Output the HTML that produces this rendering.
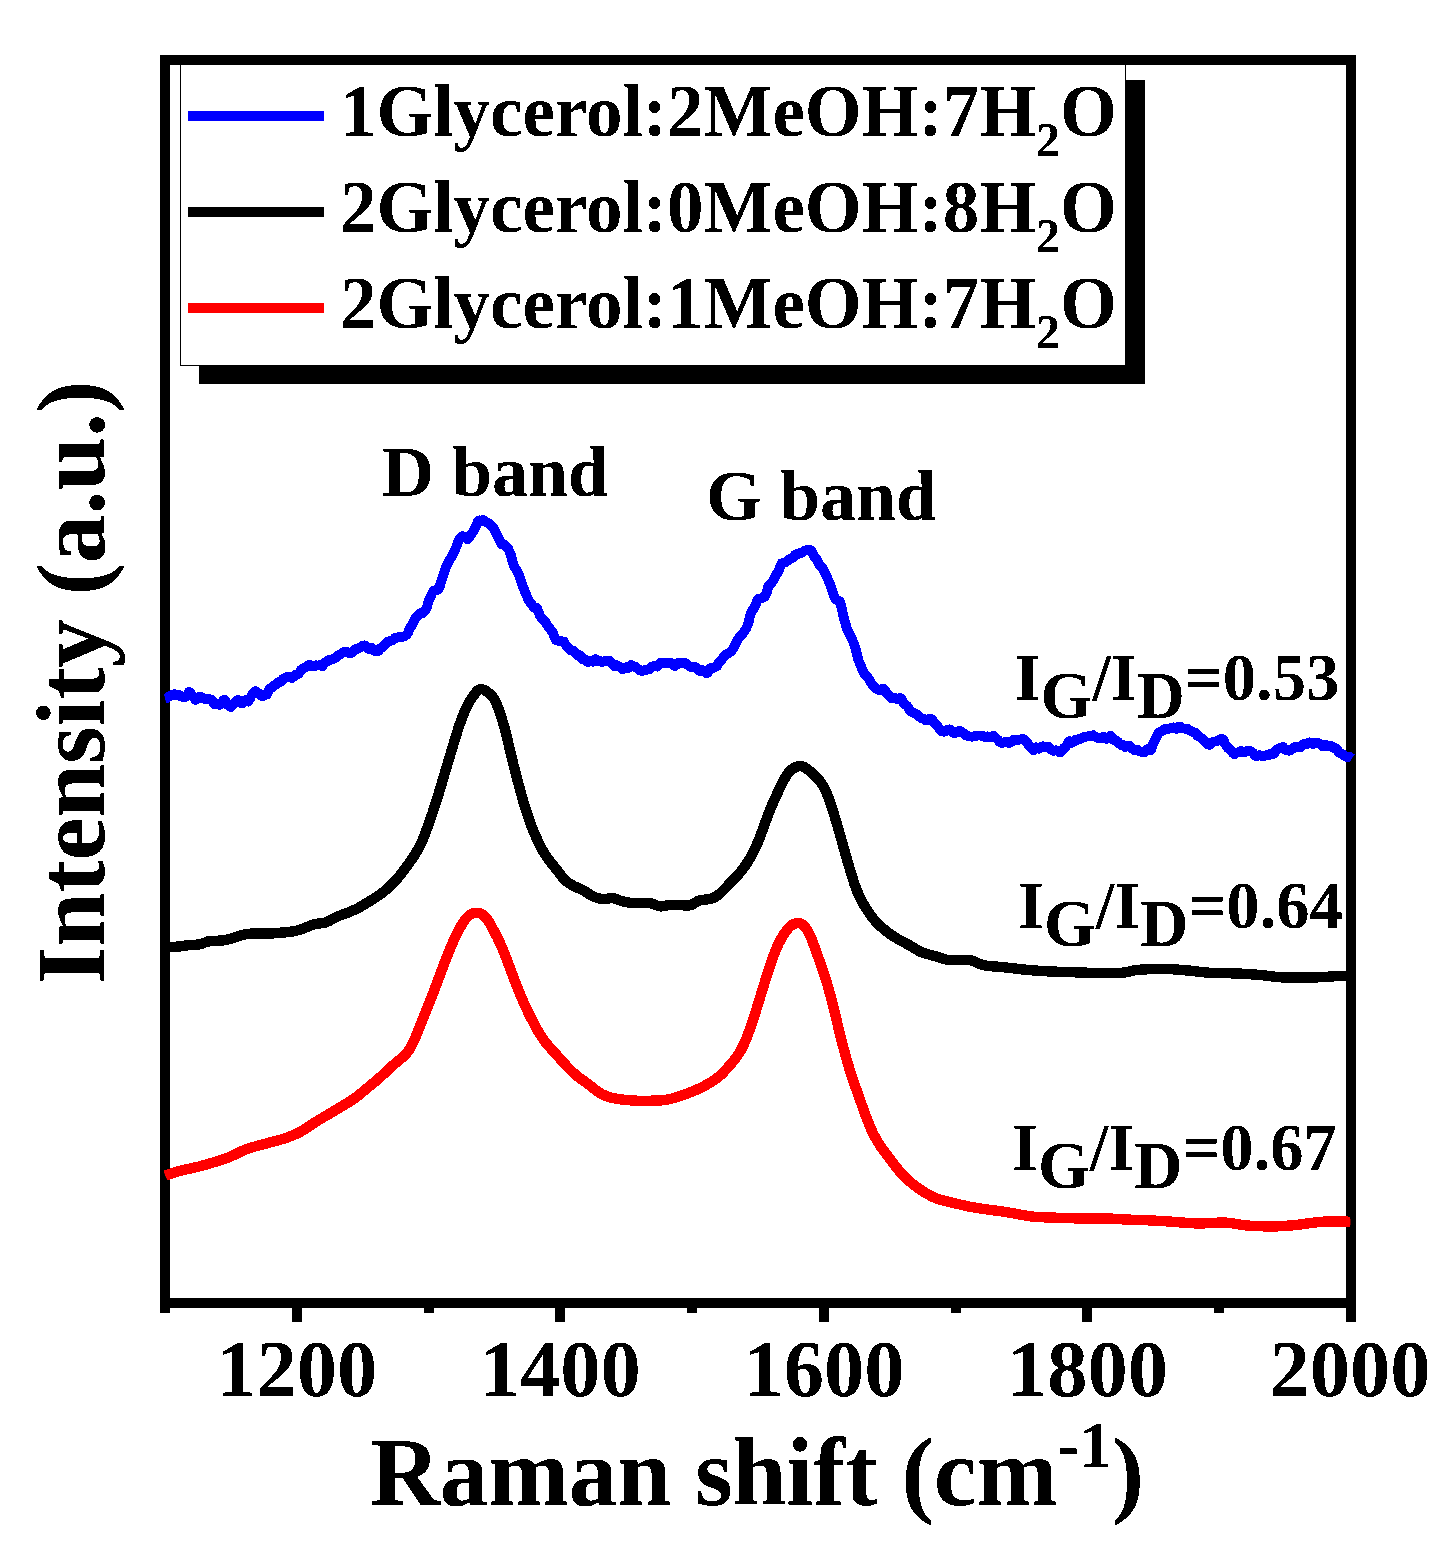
<!DOCTYPE html>
<html lang="en"><head><meta charset="utf-8"><title>Raman spectra</title>
<style>html,body{margin:0;padding:0;background:#fff}body{width:1450px;height:1555px;overflow:hidden}svg{display:block}text{font-family:"Liberation Serif",serif;font-weight:bold;fill:#000}</style></head><body>
<svg width="1450" height="1555" viewBox="0 0 1450 1555">
<rect width="1450" height="1555" fill="#fff"/>
<g shape-rendering="crispEdges">
<rect x="199" y="80" width="946" height="304" fill="#000"/>
<rect x="180.5" y="61.5" width="945" height="304" fill="#fff" stroke="#000" stroke-width="1"/>
<rect x="188" y="111" width="136" height="10" fill="#0000ff"/>
<rect x="188" y="207" width="136" height="10" fill="#000000"/>
<rect x="188" y="303" width="136" height="10" fill="#ff0000"/>
<rect x="165" y="60" width="1186" height="1243" fill="none" stroke="#000" stroke-width="10"/>
<rect x="292" y="1303" width="10" height="19" fill="#000"/>
<rect x="555" y="1303" width="10" height="19" fill="#000"/>
<rect x="819" y="1303" width="10" height="19" fill="#000"/>
<rect x="1082" y="1303" width="10" height="19" fill="#000"/>
<rect x="1346" y="1303" width="10" height="19" fill="#000"/>
<rect x="160" y="1303" width="10" height="10" fill="#000"/>
<rect x="424" y="1303" width="10" height="10" fill="#000"/>
<rect x="687" y="1303" width="10" height="10" fill="#000"/>
<rect x="951" y="1303" width="10" height="10" fill="#000"/>
<rect x="1214" y="1303" width="10" height="10" fill="#000"/>
</g>
<path d="M165.2,698.6 L166.5,698.3 L167.8,697.3 L169.1,696.7 L170.5,695.6 L171.8,695.2 L173.1,694.7 L174.4,694.1 L175.7,695.1 L177.1,695.1 L178.4,694.6 L179.7,695.4 L181.0,696.4 L182.3,696.8 L183.7,696.9 L185.0,697.1 L186.3,696.0 L187.6,694.3 L188.9,691.9 L190.3,692.9 L191.6,695.5 L192.9,696.7 L194.2,698.1 L195.5,699.9 L196.9,698.7 L198.2,697.3 L199.5,696.9 L200.8,696.8 L202.1,698.1 L203.5,698.3 L204.8,698.7 L206.1,699.5 L207.4,699.2 L208.7,699.6 L210.1,699.3 L211.4,699.9 L212.7,701.3 L214.0,703.6 L215.3,704.6 L216.7,704.1 L218.0,704.5 L219.3,704.8 L220.6,704.4 L221.9,702.3 L223.3,700.2 L224.6,699.5 L225.9,701.9 L227.2,704.7 L228.5,705.3 L229.9,706.3 L231.2,707.0 L232.5,705.3 L233.8,703.5 L235.1,702.2 L236.5,700.6 L237.8,700.0 L239.1,700.4 L240.4,702.0 L241.7,703.2 L243.1,703.0 L244.4,701.4 L245.7,700.0 L247.0,700.8 L248.3,701.5 L249.7,699.3 L251.0,696.5 L252.3,694.3 L253.6,692.7 L254.9,691.3 L256.3,691.2 L257.6,693.0 L258.9,693.5 L260.2,694.4 L261.5,696.0 L262.9,696.0 L264.2,695.0 L265.5,694.9 L266.8,694.6 L268.1,691.6 L269.5,689.0 L270.8,688.3 L272.1,687.4 L273.4,686.3 L274.7,685.0 L276.1,684.3 L277.4,683.0 L278.7,682.2 L280.0,682.1 L281.3,681.1 L282.7,679.2 L284.0,678.3 L285.3,678.0 L286.6,677.3 L287.9,676.8 L289.3,676.5 L290.6,677.1 L291.9,678.1 L293.2,677.1 L294.5,675.5 L295.9,674.6 L297.2,674.3 L298.5,673.8 L299.8,672.1 L301.1,669.8 L302.5,668.7 L303.8,668.0 L305.1,667.7 L306.4,666.8 L307.7,665.8 L309.1,664.9 L310.4,664.9 L311.7,665.8 L313.0,666.6 L314.3,666.3 L315.7,665.3 L317.0,665.5 L318.3,665.6 L319.6,665.2 L320.9,665.5 L322.3,666.4 L323.6,664.4 L324.9,662.6 L326.2,661.9 L327.5,660.7 L328.9,660.1 L330.2,660.1 L331.5,659.6 L332.8,659.1 L334.1,658.8 L335.5,657.7 L336.8,656.4 L338.1,655.6 L339.4,655.0 L340.7,654.4 L342.1,652.9 L343.4,652.1 L344.7,652.6 L346.0,652.0 L347.3,651.9 L348.7,652.9 L350.0,653.2 L351.3,652.9 L352.6,651.6 L353.9,650.1 L355.3,649.3 L356.6,649.1 L357.9,648.7 L359.2,647.9 L360.5,647.1 L361.9,646.2 L363.2,645.7 L364.5,645.3 L365.8,646.4 L367.1,647.9 L368.5,648.9 L369.8,648.8 L371.1,647.7 L372.4,649.1 L373.7,650.6 L375.1,650.8 L376.4,650.5 L377.7,651.2 L379.0,650.5 L380.3,648.1 L381.7,647.5 L383.0,646.8 L384.3,645.0 L385.6,644.0 L386.9,642.5 L388.3,641.4 L389.6,641.0 L390.9,640.8 L392.2,640.3 L393.5,639.6 L394.9,638.0 L396.2,637.4 L397.5,637.7 L398.8,637.3 L400.1,636.4 L401.5,636.9 L402.8,636.9 L404.1,636.4 L405.4,635.6 L406.7,634.7 L408.1,632.4 L409.4,629.6 L410.7,626.8 L412.0,625.0 L413.3,622.4 L414.7,619.7 L416.0,617.0 L417.3,615.8 L418.6,615.4 L419.9,613.6 L421.3,612.6 L422.6,613.2 L423.9,611.7 L425.2,610.9 L426.5,608.1 L427.9,603.8 L429.2,599.6 L430.5,597.1 L431.8,593.9 L433.1,591.3 L434.5,590.4 L435.8,590.6 L437.1,590.0 L438.4,589.0 L439.7,586.5 L441.1,581.8 L442.4,577.3 L443.7,573.7 L445.0,570.2 L446.3,566.1 L447.7,563.9 L449.0,561.1 L450.3,558.8 L451.6,557.0 L452.9,554.6 L454.3,551.6 L455.6,548.5 L456.9,545.4 L458.2,541.9 L459.5,539.3 L460.9,537.3 L462.2,536.2 L463.5,536.3 L464.8,536.8 L466.1,538.0 L467.5,539.4 L468.8,538.0 L470.1,535.8 L471.4,534.3 L472.7,532.2 L474.1,529.9 L475.4,527.8 L476.7,524.9 L478.0,521.2 L479.3,520.4 L480.7,520.7 L482.0,520.3 L483.3,520.0 L484.6,521.4 L485.9,522.0 L487.3,522.7 L488.6,523.3 L489.9,524.8 L491.2,525.4 L492.5,526.6 L493.9,528.6 L495.2,531.4 L496.5,534.1 L497.8,536.8 L499.1,539.5 L500.5,542.1 L501.8,544.5 L503.1,544.6 L504.4,544.7 L505.7,546.0 L507.1,547.5 L508.4,548.8 L509.7,552.3 L511.0,555.4 L512.3,560.7 L513.7,565.7 L515.0,567.6 L516.3,569.6 L517.6,572.4 L518.9,575.0 L520.3,578.6 L521.6,582.6 L522.9,586.8 L524.2,589.9 L525.5,592.6 L526.9,596.3 L528.2,599.5 L529.5,601.6 L530.8,603.8 L532.1,604.9 L533.5,607.2 L534.8,607.7 L536.1,607.5 L537.4,609.0 L538.7,612.6 L540.1,615.8 L541.4,617.9 L542.7,619.7 L544.0,620.6 L545.3,621.9 L546.7,624.6 L548.0,626.2 L549.3,627.4 L550.6,629.6 L551.9,631.1 L553.3,633.7 L554.6,637.4 L555.9,640.3 L557.2,640.5 L558.5,641.0 L559.9,640.8 L561.2,641.3 L562.5,641.4 L563.8,641.5 L565.1,643.8 L566.5,646.0 L567.8,647.1 L569.1,648.7 L570.4,650.3 L571.7,650.4 L573.1,650.7 L574.4,651.7 L575.7,653.0 L577.0,655.0 L578.3,655.3 L579.7,655.1 L581.0,656.6 L582.3,659.1 L583.6,658.9 L584.9,659.2 L586.3,661.0 L587.6,662.1 L588.9,661.8 L590.2,661.1 L591.5,661.4 L592.9,661.8 L594.2,660.5 L595.5,659.1 L596.8,660.2 L598.1,661.1 L599.5,661.0 L600.8,661.4 L602.1,662.1 L603.4,661.5 L604.7,661.1 L606.1,661.4 L607.4,661.1 L608.7,661.2 L610.0,661.1 L611.3,662.6 L612.7,664.5 L614.0,665.9 L615.3,665.5 L616.6,665.3 L617.9,665.9 L619.3,666.5 L620.6,667.5 L621.9,668.9 L623.2,669.1 L624.5,668.4 L625.9,667.3 L627.2,667.9 L628.5,667.9 L629.8,666.0 L631.1,664.9 L632.5,666.1 L633.8,666.5 L635.1,666.4 L636.4,667.8 L637.7,668.7 L639.1,669.4 L640.4,670.6 L641.7,671.0 L643.0,670.5 L644.3,670.3 L645.7,670.0 L647.0,669.5 L648.3,669.6 L649.6,669.2 L650.9,667.6 L652.3,666.4 L653.6,666.5 L654.9,665.8 L656.2,666.2 L657.5,666.6 L658.9,664.9 L660.2,662.9 L661.5,662.6 L662.8,663.5 L664.1,663.2 L665.5,662.9 L666.8,662.8 L668.1,663.2 L669.4,663.5 L670.7,663.3 L672.1,663.2 L673.4,665.1 L674.7,666.0 L676.0,665.3 L677.3,664.2 L678.7,662.8 L680.0,663.0 L681.3,663.3 L682.6,662.8 L683.9,662.7 L685.3,663.0 L686.6,664.5 L687.9,665.2 L689.2,666.0 L690.5,667.0 L691.9,667.1 L693.2,666.7 L694.5,666.7 L695.8,667.3 L697.1,669.1 L698.5,670.2 L699.8,671.0 L701.1,671.0 L702.4,670.0 L703.7,670.6 L705.1,671.6 L706.4,673.4 L707.7,672.9 L709.0,670.0 L710.3,668.0 L711.7,667.7 L713.0,667.9 L714.3,667.2 L715.6,666.8 L716.9,666.4 L718.3,663.6 L719.6,661.8 L720.9,660.4 L722.2,659.0 L723.5,656.7 L724.9,655.3 L726.2,654.4 L727.5,653.4 L728.8,653.1 L730.1,652.2 L731.5,651.2 L732.8,648.9 L734.1,647.0 L735.4,644.4 L736.7,641.9 L738.1,639.3 L739.4,637.2 L740.7,636.1 L742.0,634.6 L743.3,632.7 L744.7,630.5 L746.0,628.9 L747.3,625.8 L748.6,622.0 L749.9,616.6 L751.3,612.4 L752.6,610.1 L753.9,608.1 L755.2,605.9 L756.5,602.7 L757.9,599.2 L759.2,598.7 L760.5,598.5 L761.8,598.1 L763.1,597.3 L764.5,596.8 L765.8,594.8 L767.1,591.3 L768.4,586.0 L769.7,584.4 L771.1,583.7 L772.4,581.8 L773.7,579.4 L775.0,576.8 L776.3,574.3 L777.7,572.5 L779.0,569.9 L780.3,566.0 L781.6,563.3 L782.9,562.9 L784.3,562.5 L785.6,562.2 L786.9,561.3 L788.2,560.2 L789.5,559.4 L790.9,558.2 L792.2,558.2 L793.5,557.2 L794.8,555.1 L796.1,554.2 L797.5,553.6 L798.8,553.9 L800.1,553.5 L801.4,552.4 L802.7,552.1 L804.1,551.1 L805.4,550.4 L806.7,550.3 L808.0,550.3 L809.3,550.3 L810.7,550.2 L812.0,551.8 L813.3,554.8 L814.6,557.2 L815.9,558.3 L817.3,560.2 L818.6,563.3 L819.9,565.7 L821.2,566.6 L822.5,567.8 L823.9,570.7 L825.2,573.6 L826.5,575.5 L827.8,579.0 L829.1,582.2 L830.5,585.6 L831.8,589.8 L833.1,593.5 L834.4,597.2 L835.7,599.5 L837.1,600.2 L838.4,600.4 L839.7,601.1 L841.0,605.2 L842.3,610.9 L843.7,617.5 L845.0,622.2 L846.3,626.4 L847.6,630.4 L848.9,632.8 L850.3,635.4 L851.6,638.1 L852.9,641.3 L854.2,644.1 L855.5,648.4 L856.9,654.1 L858.2,659.4 L859.5,662.8 L860.8,665.5 L862.1,669.1 L863.5,672.1 L864.8,674.3 L866.1,675.9 L867.4,677.0 L868.7,678.9 L870.1,681.5 L871.4,683.3 L872.7,685.7 L874.0,686.7 L875.3,687.4 L876.7,688.9 L878.0,689.8 L879.3,690.3 L880.6,690.4 L881.9,689.0 L883.3,688.7 L884.6,690.0 L885.9,691.9 L887.2,693.7 L888.5,695.3 L889.9,696.7 L891.2,698.2 L892.5,698.3 L893.8,698.3 L895.1,698.1 L896.5,698.3 L897.8,699.5 L899.1,699.3 L900.4,698.1 L901.7,699.2 L903.1,702.1 L904.4,704.1 L905.7,704.8 L907.0,705.9 L908.3,707.8 L909.7,710.5 L911.0,711.3 L912.3,711.9 L913.6,712.8 L914.9,713.7 L916.3,714.3 L917.6,714.8 L918.9,716.1 L920.2,717.3 L921.5,718.4 L922.9,718.4 L924.2,719.3 L925.5,720.2 L926.8,720.6 L928.1,719.7 L929.5,718.9 L930.8,718.9 L932.1,719.5 L933.4,721.2 L934.7,723.3 L936.1,725.0 L937.4,726.1 L938.7,727.7 L940.0,729.8 L941.3,731.2 L942.7,731.4 L944.0,731.7 L945.3,731.3 L946.6,730.4 L947.9,729.7 L949.3,729.4 L950.6,729.8 L951.9,731.2 L953.2,732.5 L954.5,733.3 L955.9,732.6 L957.2,732.0 L958.5,731.2 L959.8,730.7 L961.1,731.4 L962.5,732.8 L963.8,733.3 L965.1,734.9 L966.4,735.7 L967.7,735.6 L969.1,736.3 L970.4,736.5 L971.7,736.7 L973.0,736.6 L974.3,736.3 L975.7,735.7 L977.0,735.7 L978.3,735.4 L979.6,735.4 L980.9,735.8 L982.3,735.9 L983.6,736.2 L984.9,737.0 L986.2,737.0 L987.5,736.4 L988.9,737.0 L990.2,737.2 L991.5,736.5 L992.8,736.2 L994.1,736.1 L995.5,737.9 L996.8,738.8 L998.1,740.0 L999.4,741.6 L1000.7,742.4 L1002.1,743.2 L1003.4,742.6 L1004.7,741.9 L1006.0,741.6 L1007.3,742.3 L1008.7,743.0 L1010.0,742.7 L1011.3,741.9 L1012.6,740.4 L1013.9,739.6 L1015.3,739.8 L1016.6,740.1 L1017.9,739.8 L1019.2,739.6 L1020.5,739.5 L1021.9,739.0 L1023.2,739.1 L1024.5,739.8 L1025.8,740.7 L1027.1,742.6 L1028.5,744.9 L1029.8,746.0 L1031.1,747.2 L1032.4,748.6 L1033.7,750.3 L1035.1,748.3 L1036.4,747.3 L1037.7,747.7 L1039.0,748.6 L1040.3,747.7 L1041.7,746.6 L1043.0,746.3 L1044.3,747.2 L1045.6,747.4 L1046.9,746.7 L1048.3,746.6 L1049.6,747.6 L1050.9,749.4 L1052.2,750.4 L1053.5,750.9 L1054.9,750.6 L1056.2,750.3 L1057.5,751.0 L1058.8,751.5 L1060.1,752.4 L1061.5,751.6 L1062.8,749.3 L1064.1,747.7 L1065.4,747.1 L1066.7,745.2 L1068.1,742.7 L1069.4,741.0 L1070.7,741.9 L1072.0,742.7 L1073.3,742.1 L1074.7,740.5 L1076.0,739.7 L1077.3,739.7 L1078.6,739.7 L1079.9,738.6 L1081.3,738.1 L1082.6,737.8 L1083.9,737.4 L1085.2,736.6 L1086.5,736.7 L1087.9,736.4 L1089.2,736.1 L1090.5,736.4 L1091.8,735.8 L1093.1,735.2 L1094.5,736.4 L1095.8,737.1 L1097.1,737.3 L1098.4,738.3 L1099.7,738.6 L1101.1,738.5 L1102.4,737.2 L1103.7,736.9 L1105.0,738.3 L1106.3,738.9 L1107.7,738.0 L1109.0,737.1 L1110.3,735.8 L1111.6,736.5 L1112.9,738.7 L1114.3,740.5 L1115.6,740.4 L1116.9,741.3 L1118.2,742.0 L1119.5,743.9 L1120.9,744.9 L1122.2,744.5 L1123.5,745.5 L1124.8,746.9 L1126.1,746.6 L1127.5,745.8 L1128.8,745.6 L1130.1,746.3 L1131.4,748.0 L1132.7,748.8 L1134.1,749.9 L1135.4,750.2 L1136.7,749.7 L1138.0,750.1 L1139.3,751.3 L1140.7,751.7 L1142.0,751.5 L1143.3,751.4 L1144.6,752.4 L1145.9,750.9 L1147.3,749.3 L1148.6,749.6 L1149.9,750.5 L1151.2,749.5 L1152.5,745.1 L1153.9,741.7 L1155.2,740.1 L1156.5,736.7 L1157.8,734.3 L1159.1,732.3 L1160.5,731.5 L1161.8,731.4 L1163.1,730.1 L1164.4,729.1 L1165.7,729.1 L1167.1,729.5 L1168.4,728.6 L1169.7,728.3 L1171.0,728.2 L1172.3,727.8 L1173.7,727.4 L1175.0,728.4 L1176.3,728.9 L1177.6,727.7 L1178.9,726.7 L1180.3,726.8 L1181.6,727.9 L1182.9,728.3 L1184.2,728.6 L1185.5,728.6 L1186.9,728.5 L1188.2,729.8 L1189.5,730.5 L1190.8,730.8 L1192.1,731.6 L1193.5,732.3 L1194.8,732.4 L1196.1,733.6 L1197.4,735.7 L1198.7,736.5 L1200.1,737.1 L1201.4,738.2 L1202.7,739.6 L1204.0,740.4 L1205.3,741.7 L1206.7,743.3 L1208.0,744.5 L1209.3,744.9 L1210.6,743.9 L1211.9,742.6 L1213.3,741.8 L1214.6,741.5 L1215.9,741.4 L1217.2,740.7 L1218.5,740.0 L1219.9,739.9 L1221.2,739.0 L1222.5,739.0 L1223.8,740.7 L1225.1,743.8 L1226.5,746.2 L1227.8,747.9 L1229.1,748.7 L1230.4,749.8 L1231.7,751.5 L1233.1,753.2 L1234.4,754.2 L1235.7,753.3 L1237.0,752.7 L1238.3,752.4 L1239.7,751.7 L1241.0,750.9 L1242.3,751.7 L1243.6,752.2 L1244.9,752.0 L1246.3,751.3 L1247.6,750.8 L1248.9,750.6 L1250.2,751.5 L1251.5,751.5 L1252.9,752.8 L1254.2,754.6 L1255.5,756.0 L1256.8,756.4 L1258.1,755.6 L1259.5,755.1 L1260.8,755.5 L1262.1,756.2 L1263.4,756.2 L1264.7,755.7 L1266.1,755.3 L1267.4,755.2 L1268.7,755.0 L1270.0,753.9 L1271.3,754.0 L1272.7,754.5 L1274.0,753.4 L1275.3,751.6 L1276.6,750.4 L1277.9,748.9 L1279.3,748.3 L1280.6,748.4 L1281.9,747.7 L1283.2,747.0 L1284.5,748.7 L1285.9,750.2 L1287.2,750.1 L1288.5,750.6 L1289.8,750.6 L1291.1,749.5 L1292.5,748.9 L1293.8,747.8 L1295.1,746.6 L1296.4,746.8 L1297.7,746.9 L1299.1,747.2 L1300.4,747.2 L1301.7,745.7 L1303.0,744.1 L1304.3,744.0 L1305.7,744.4 L1307.0,744.3 L1308.3,743.0 L1309.6,742.4 L1310.9,742.7 L1312.3,743.9 L1313.6,743.9 L1314.9,743.2 L1316.2,742.7 L1317.5,742.8 L1318.9,743.2 L1320.2,744.0 L1321.5,745.0 L1322.8,746.4 L1324.1,746.1 L1325.5,745.0 L1326.8,745.3 L1328.1,746.3 L1329.4,746.2 L1330.7,746.0 L1332.1,746.6 L1333.4,747.9 L1334.7,747.8 L1336.0,748.5 L1337.3,750.0 L1338.7,752.4 L1340.0,753.0 L1341.3,753.3 L1342.6,754.2 L1343.9,755.6 L1345.3,756.0 L1346.6,756.5 L1347.9,757.3 L1349.2,756.7 L1350.5,757.6 L1351.7,758.5" fill="none" stroke="#0000ff" stroke-width="9.8" stroke-linejoin="round" stroke-linecap="butt" shape-rendering="crispEdges"/>
<path d="M165.5,947.2 C166.0,947.2 167.5,947.2 168.5,947.2 C169.5,947.1 170.5,947.1 171.5,947.0 C172.5,947.0 173.5,946.9 174.5,946.8 C175.5,946.8 176.5,946.7 177.5,946.6 C178.5,946.5 179.5,946.4 180.5,946.3 C181.5,946.1 182.5,946.0 183.5,945.8 C184.5,945.7 185.5,945.5 186.5,945.4 C187.5,945.3 188.5,945.2 189.5,945.2 C190.5,945.1 191.5,945.0 192.5,945.0 C193.5,944.9 194.5,944.9 195.5,944.8 C196.5,944.7 197.5,944.6 198.5,944.5 C199.5,944.3 200.5,944.1 201.5,943.8 C202.5,943.5 203.5,943.0 204.5,942.7 C205.5,942.3 206.5,941.9 207.5,941.6 C208.5,941.4 209.5,941.2 210.5,941.1 C211.5,941.0 212.5,940.9 213.5,940.9 C214.5,940.8 215.5,940.8 216.5,940.8 C217.5,940.7 218.5,940.7 219.5,940.6 C220.5,940.6 221.5,940.5 222.5,940.4 C223.5,940.3 224.5,940.2 225.5,940.0 C226.5,939.8 227.5,939.6 228.5,939.3 C229.5,939.1 230.5,938.8 231.5,938.5 C232.5,938.2 233.5,937.9 234.5,937.6 C235.5,937.3 236.5,936.9 237.5,936.6 C238.5,936.3 239.5,935.9 240.5,935.5 C241.5,935.2 242.5,934.9 243.5,934.7 C244.5,934.4 245.5,934.3 246.5,934.1 C247.5,934.0 248.5,933.9 249.5,933.8 C250.5,933.7 251.5,933.6 252.5,933.6 C253.5,933.5 254.5,933.5 255.5,933.5 C256.5,933.4 257.5,933.4 258.5,933.4 C259.5,933.4 260.5,933.4 261.5,933.4 C262.5,933.4 263.5,933.4 264.5,933.4 C265.5,933.4 266.5,933.5 267.5,933.5 C268.5,933.5 269.5,933.5 270.5,933.4 C271.5,933.4 272.5,933.4 273.5,933.3 C274.5,933.3 275.5,933.2 276.5,933.1 C277.5,933.0 278.5,932.9 279.5,932.8 C280.5,932.7 281.5,932.6 282.5,932.5 C283.5,932.4 284.5,932.4 285.5,932.3 C286.5,932.2 287.5,932.1 288.5,932.0 C289.5,931.9 290.5,931.8 291.5,931.6 C292.5,931.5 293.5,931.3 294.5,931.1 C295.5,930.9 296.5,930.6 297.5,930.4 C298.5,930.1 299.5,929.8 300.5,929.4 C301.5,929.1 302.5,928.8 303.5,928.5 C304.5,928.1 305.5,927.7 306.5,927.3 C307.5,926.9 308.5,926.5 309.5,926.1 C310.5,925.7 311.5,925.3 312.5,924.9 C313.5,924.6 314.5,924.3 315.5,924.1 C316.5,923.9 317.5,923.8 318.5,923.6 C319.5,923.5 320.5,923.4 321.5,923.2 C322.5,923.0 323.5,922.9 324.5,922.7 C325.5,922.4 326.5,922.1 327.5,921.7 C328.5,921.3 329.5,920.7 330.5,920.2 C331.5,919.6 332.5,919.0 333.5,918.5 C334.5,917.9 335.5,917.4 336.5,916.9 C337.5,916.5 338.5,916.1 339.5,915.7 C340.5,915.3 341.5,915.0 342.5,914.6 C343.5,914.3 344.5,913.9 345.5,913.6 C346.5,913.2 347.5,912.8 348.5,912.4 C349.5,912.0 350.5,911.5 351.5,911.1 C352.5,910.7 353.5,910.2 354.5,909.8 C355.5,909.3 356.5,908.9 357.5,908.4 C358.5,907.8 359.5,907.3 360.5,906.8 C361.5,906.2 362.5,905.6 363.5,905.0 C364.5,904.4 365.5,903.8 366.5,903.1 C367.5,902.5 368.5,901.9 369.5,901.3 C370.5,900.6 371.5,900.0 372.5,899.4 C373.5,898.8 374.5,898.2 375.5,897.5 C376.5,896.9 377.5,896.2 378.5,895.5 C379.5,894.9 380.5,894.1 381.5,893.4 C382.5,892.6 383.5,891.8 384.5,891.0 C385.5,890.2 386.5,889.4 387.5,888.5 C388.5,887.6 389.5,886.7 390.5,885.8 C391.5,884.8 392.5,883.8 393.5,882.8 C394.5,881.8 395.5,880.7 396.5,879.5 C397.5,878.4 398.5,877.1 399.5,875.9 C400.5,874.6 401.5,873.3 402.5,872.0 C403.5,870.6 404.5,869.3 405.5,868.0 C406.5,866.6 407.5,865.3 408.5,863.9 C409.5,862.6 410.5,861.2 411.5,859.8 C412.5,858.3 413.5,856.8 414.5,855.2 C415.5,853.6 416.5,852.0 417.5,850.2 C418.5,848.4 419.5,846.5 420.5,844.4 C421.5,842.4 422.5,840.2 423.5,837.8 C424.5,835.4 425.5,832.7 426.5,830.0 C427.5,827.3 428.5,824.5 429.5,821.6 C430.5,818.8 431.5,816.0 432.5,813.0 C433.5,810.0 434.5,807.0 435.5,803.8 C436.5,800.7 437.5,797.4 438.5,794.2 C439.5,790.9 440.5,787.5 441.5,784.2 C442.5,780.8 443.5,777.5 444.5,774.1 C445.5,770.8 446.5,767.5 447.5,764.1 C448.5,760.8 449.5,757.5 450.5,754.1 C451.5,750.8 452.5,747.4 453.5,744.1 C454.5,740.8 455.5,737.4 456.5,734.2 C457.5,731.0 458.5,727.8 459.5,724.9 C460.5,722.0 461.5,719.3 462.5,716.7 C463.5,714.2 464.5,711.9 465.5,709.7 C466.5,707.5 467.5,705.4 468.5,703.5 C469.5,701.7 470.5,700.0 471.5,698.5 C472.5,696.9 473.5,695.5 474.5,694.2 C475.5,692.8 476.5,691.5 477.5,690.6 C478.5,689.8 479.5,689.3 480.5,689.1 C481.5,689.0 482.5,689.3 483.5,689.7 C484.5,690.0 485.5,690.6 486.5,691.3 C487.5,692.0 488.5,692.8 489.5,693.7 C490.5,694.6 491.5,695.4 492.5,696.7 C493.5,697.9 494.5,699.3 495.5,701.3 C496.5,703.3 497.5,705.9 498.5,708.7 C499.5,711.4 500.5,714.3 501.5,717.6 C502.5,720.8 503.5,724.2 504.5,727.9 C505.5,731.6 506.5,735.7 507.5,739.8 C508.5,743.9 509.5,748.2 510.5,752.4 C511.5,756.6 512.5,760.9 513.5,764.9 C514.5,768.9 515.5,772.8 516.5,776.5 C517.5,780.3 518.5,784.0 519.5,787.7 C520.5,791.3 521.5,795.1 522.5,798.6 C523.5,802.1 524.5,805.5 525.5,808.7 C526.5,811.9 527.5,814.9 528.5,817.8 C529.5,820.7 530.5,823.4 531.5,826.0 C532.5,828.7 533.5,831.1 534.5,833.5 C535.5,835.9 536.5,838.1 537.5,840.2 C538.5,842.4 539.5,844.4 540.5,846.3 C541.5,848.2 542.5,850.1 543.5,851.8 C544.5,853.5 545.5,855.0 546.5,856.5 C547.5,858.0 548.5,859.3 549.5,860.6 C550.5,862.0 551.5,863.2 552.5,864.5 C553.5,865.7 554.5,866.9 555.5,868.2 C556.5,869.5 557.5,870.8 558.5,872.1 C559.5,873.4 560.5,874.8 561.5,876.0 C562.5,877.2 563.5,878.5 564.5,879.5 C565.5,880.5 566.5,881.4 567.5,882.2 C568.5,883.0 569.5,883.6 570.5,884.2 C571.5,884.8 572.5,885.3 573.5,885.8 C574.5,886.4 575.5,886.8 576.5,887.3 C577.5,887.7 578.5,888.2 579.5,888.6 C580.5,889.1 581.5,889.5 582.5,890.0 C583.5,890.6 584.5,891.1 585.5,891.7 C586.5,892.3 587.5,893.0 588.5,893.6 C589.5,894.3 590.5,895.0 591.5,895.5 C592.5,896.1 593.5,896.6 594.5,897.0 C595.5,897.4 596.5,897.7 597.5,898.0 C598.5,898.3 599.5,898.6 600.5,898.8 C601.5,899.0 602.5,899.1 603.5,899.1 C604.5,899.1 605.5,899.0 606.5,898.8 C607.5,898.7 608.5,898.4 609.5,898.3 C610.5,898.2 611.5,898.1 612.5,898.1 C613.5,898.2 614.5,898.5 615.5,898.8 C616.5,899.1 617.5,899.6 618.5,900.0 C619.5,900.3 620.5,900.7 621.5,901.0 C622.5,901.3 623.5,901.5 624.5,901.7 C625.5,902.0 626.5,902.1 627.5,902.3 C628.5,902.5 629.5,902.7 630.5,902.8 C631.5,903.0 632.5,903.1 633.5,903.2 C634.5,903.3 635.5,903.3 636.5,903.3 C637.5,903.3 638.5,903.3 639.5,903.2 C640.5,903.2 641.5,903.1 642.5,903.0 C643.5,902.9 644.5,902.8 645.5,902.8 C646.5,902.8 647.5,902.7 648.5,902.8 C649.5,903.0 650.5,903.2 651.5,903.5 C652.5,903.8 653.5,904.2 654.5,904.6 C655.5,904.9 656.5,905.4 657.5,905.7 C658.5,905.9 659.5,906.2 660.5,906.3 C661.5,906.4 662.5,906.3 663.5,906.2 C664.5,906.1 665.5,905.8 666.5,905.6 C667.5,905.4 668.5,905.1 669.5,905.0 C670.5,904.8 671.5,904.7 672.5,904.7 C673.5,904.7 674.5,904.7 675.5,904.8 C676.5,904.8 677.5,904.9 678.5,904.9 C679.5,905.0 680.5,905.1 681.5,905.2 C682.5,905.2 683.5,905.3 684.5,905.4 C685.5,905.4 686.5,905.6 687.5,905.5 C688.5,905.5 689.5,905.5 690.5,905.2 C691.5,904.9 692.5,904.3 693.5,903.7 C694.5,903.2 695.5,902.3 696.5,901.8 C697.5,901.2 698.5,900.7 699.5,900.4 C700.5,900.1 701.5,900.0 702.5,899.9 C703.5,899.7 704.5,899.7 705.5,899.6 C706.5,899.5 707.5,899.4 708.5,899.2 C709.5,899.0 710.5,898.8 711.5,898.5 C712.5,898.1 713.5,897.8 714.5,897.3 C715.5,896.8 716.5,896.3 717.5,895.6 C718.5,894.8 719.5,893.9 720.5,893.0 C721.5,892.1 722.5,891.2 723.5,890.1 C724.5,889.1 725.5,888.0 726.5,887.0 C727.5,885.9 728.5,884.7 729.5,883.6 C730.5,882.5 731.5,881.4 732.5,880.4 C733.5,879.4 734.5,878.4 735.5,877.4 C736.5,876.4 737.5,875.4 738.5,874.3 C739.5,873.2 740.5,872.0 741.5,870.7 C742.5,869.5 743.5,868.1 744.5,866.7 C745.5,865.3 746.5,863.9 747.5,862.3 C748.5,860.7 749.5,859.1 750.5,857.3 C751.5,855.6 752.5,853.7 753.5,851.8 C754.5,849.8 755.5,847.7 756.5,845.4 C757.5,843.2 758.5,840.7 759.5,838.2 C760.5,835.7 761.5,832.9 762.5,830.2 C763.5,827.5 764.5,824.6 765.5,821.8 C766.5,819.1 767.5,816.4 768.5,813.8 C769.5,811.3 770.5,808.8 771.5,806.4 C772.5,804.0 773.5,801.7 774.5,799.5 C775.5,797.3 776.5,795.1 777.5,793.0 C778.5,790.8 779.5,788.6 780.5,786.6 C781.5,784.5 782.5,782.5 783.5,780.6 C784.5,778.8 785.5,777.1 786.5,775.6 C787.5,774.0 788.5,772.5 789.5,771.4 C790.5,770.2 791.5,769.4 792.5,768.8 C793.5,768.1 794.5,767.7 795.5,767.3 C796.5,766.9 797.5,766.5 798.5,766.3 C799.5,766.1 800.5,765.9 801.5,766.1 C802.5,766.2 803.5,766.7 804.5,767.2 C805.5,767.8 806.5,768.6 807.5,769.4 C808.5,770.1 809.5,770.9 810.5,771.7 C811.5,772.5 812.5,773.4 813.5,774.3 C814.5,775.2 815.5,776.2 816.5,777.3 C817.5,778.4 818.5,779.5 819.5,780.8 C820.5,782.0 821.5,783.3 822.5,784.9 C823.5,786.5 824.5,788.2 825.5,790.4 C826.5,792.5 827.5,795.1 828.5,797.8 C829.5,800.5 830.5,803.4 831.5,806.5 C832.5,809.5 833.5,812.7 834.5,816.0 C835.5,819.2 836.5,822.5 837.5,825.9 C838.5,829.3 839.5,832.8 840.5,836.4 C841.5,839.9 842.5,843.6 843.5,847.1 C844.5,850.7 845.5,854.4 846.5,857.8 C847.5,861.3 848.5,864.7 849.5,868.0 C850.5,871.4 851.5,874.7 852.5,877.9 C853.5,881.0 854.5,884.2 855.5,886.9 C856.5,889.7 857.5,892.0 858.5,894.3 C859.5,896.6 860.5,898.5 861.5,900.5 C862.5,902.4 863.5,904.1 864.5,905.8 C865.5,907.4 866.5,909.0 867.5,910.5 C868.5,912.0 869.5,913.5 870.5,914.9 C871.5,916.3 872.5,917.7 873.5,918.9 C874.5,920.2 875.5,921.3 876.5,922.4 C877.5,923.4 878.5,924.4 879.5,925.4 C880.5,926.3 881.5,927.2 882.5,928.0 C883.5,928.9 884.5,929.7 885.5,930.5 C886.5,931.3 887.5,932.1 888.5,932.8 C889.5,933.6 890.5,934.3 891.5,935.0 C892.5,935.7 893.5,936.3 894.5,937.0 C895.5,937.6 896.5,938.2 897.5,938.8 C898.5,939.4 899.5,940.0 900.5,940.5 C901.5,941.1 902.5,941.6 903.5,942.1 C904.5,942.7 905.5,943.2 906.5,943.7 C907.5,944.2 908.5,944.7 909.5,945.3 C910.5,945.8 911.5,946.4 912.5,947.0 C913.5,947.6 914.5,948.3 915.5,948.9 C916.5,949.6 917.5,950.3 918.5,950.8 C919.5,951.4 920.5,951.8 921.5,952.2 C922.5,952.6 923.5,952.9 924.5,953.2 C925.5,953.6 926.5,953.8 927.5,954.1 C928.5,954.4 929.5,954.6 930.5,954.9 C931.5,955.2 932.5,955.4 933.5,955.7 C934.5,956.0 935.5,956.2 936.5,956.5 C937.5,956.9 938.5,957.2 939.5,957.5 C940.5,957.9 941.5,958.2 942.5,958.6 C943.5,958.9 944.5,959.2 945.5,959.4 C946.5,959.7 947.5,959.8 948.5,960.0 C949.5,960.1 950.5,960.1 951.5,960.1 C952.5,960.1 953.5,960.1 954.5,960.1 C955.5,960.1 956.5,960.1 957.5,960.1 C958.5,960.1 959.5,960.1 960.5,960.1 C961.5,960.1 962.5,960.1 963.5,960.1 C964.5,960.1 965.5,960.0 966.5,960.1 C967.5,960.1 968.5,960.0 969.5,960.2 C970.5,960.3 971.5,960.5 972.5,960.8 C973.5,961.2 974.5,961.6 975.5,962.1 C976.5,962.5 977.5,963.0 978.5,963.5 C979.5,963.9 980.5,964.3 981.5,964.7 C982.5,965.0 983.5,965.2 984.5,965.4 C985.5,965.6 986.5,965.7 987.5,965.8 C988.5,965.9 989.5,966.0 990.5,966.1 C991.5,966.2 992.5,966.3 993.5,966.4 C994.5,966.5 995.5,966.5 996.5,966.6 C997.5,966.7 998.5,966.8 999.5,966.9 C1000.5,966.9 1001.5,967.0 1002.5,967.1 C1003.5,967.2 1004.5,967.3 1005.5,967.4 C1006.5,967.5 1007.5,967.6 1008.5,967.8 C1009.5,967.9 1010.5,968.0 1011.5,968.1 C1012.5,968.2 1013.5,968.4 1014.5,968.5 C1015.5,968.6 1016.5,968.7 1017.5,968.9 C1018.5,969.0 1019.5,969.1 1020.5,969.2 C1021.5,969.3 1022.5,969.4 1023.5,969.5 C1024.5,969.6 1025.5,969.7 1026.5,969.8 C1027.5,969.9 1028.5,970.0 1029.5,970.1 C1030.5,970.2 1031.5,970.2 1032.5,970.3 C1033.5,970.4 1034.5,970.5 1035.5,970.6 C1036.5,970.6 1037.5,970.7 1038.5,970.8 C1039.5,970.8 1040.5,970.9 1041.5,971.0 C1042.5,971.0 1043.5,971.1 1044.5,971.2 C1045.5,971.2 1046.5,971.3 1047.5,971.3 C1048.5,971.4 1049.5,971.4 1050.5,971.5 C1051.5,971.5 1052.5,971.5 1053.5,971.6 C1054.5,971.6 1055.5,971.7 1056.5,971.7 C1057.5,971.7 1058.5,971.8 1059.5,971.8 C1060.5,971.9 1061.5,971.9 1062.5,971.9 C1063.5,972.0 1064.5,972.0 1065.5,972.0 C1066.5,972.1 1067.5,972.1 1068.5,972.1 C1069.5,972.2 1070.5,972.2 1071.5,972.2 C1072.5,972.2 1073.5,972.3 1074.5,972.3 C1075.5,972.3 1076.5,972.4 1077.5,972.4 C1078.5,972.4 1079.5,972.5 1080.5,972.5 C1081.5,972.5 1082.5,972.6 1083.5,972.6 C1084.5,972.6 1085.5,972.7 1086.5,972.7 C1087.5,972.7 1088.5,972.7 1089.5,972.8 C1090.5,972.8 1091.5,972.8 1092.5,972.8 C1093.5,972.8 1094.5,972.8 1095.5,972.8 C1096.5,972.8 1097.5,972.8 1098.5,972.8 C1099.5,972.8 1100.5,972.8 1101.5,972.8 C1102.5,972.8 1103.5,972.8 1104.5,972.8 C1105.5,972.8 1106.5,972.8 1107.5,972.8 C1108.5,972.8 1109.5,972.8 1110.5,972.8 C1111.5,972.8 1112.5,972.8 1113.5,972.8 C1114.5,972.8 1115.5,972.8 1116.5,972.8 C1117.5,972.8 1118.5,972.9 1119.5,972.8 C1120.5,972.8 1121.5,972.8 1122.5,972.7 C1123.5,972.6 1124.5,972.5 1125.5,972.3 C1126.5,972.1 1127.5,971.9 1128.5,971.7 C1129.5,971.4 1130.5,971.2 1131.5,971.0 C1132.5,970.7 1133.5,970.5 1134.5,970.3 C1135.5,970.1 1136.5,970.0 1137.5,969.9 C1138.5,969.8 1139.5,969.7 1140.5,969.7 C1141.5,969.6 1142.5,969.5 1143.5,969.5 C1144.5,969.4 1145.5,969.4 1146.5,969.3 C1147.5,969.3 1148.5,969.2 1149.5,969.2 C1150.5,969.1 1151.5,969.1 1152.5,969.1 C1153.5,969.0 1154.5,969.0 1155.5,969.0 C1156.5,969.0 1157.5,968.9 1158.5,968.9 C1159.5,968.9 1160.5,968.9 1161.5,968.9 C1162.5,968.9 1163.5,968.9 1164.5,968.9 C1165.5,968.9 1166.5,968.9 1167.5,969.0 C1168.5,969.0 1169.5,969.1 1170.5,969.1 C1171.5,969.2 1172.5,969.2 1173.5,969.3 C1174.5,969.4 1175.5,969.5 1176.5,969.5 C1177.5,969.6 1178.5,969.7 1179.5,969.8 C1180.5,969.9 1181.5,969.9 1182.5,970.0 C1183.5,970.1 1184.5,970.2 1185.5,970.3 C1186.5,970.4 1187.5,970.4 1188.5,970.5 C1189.5,970.6 1190.5,970.7 1191.5,970.8 C1192.5,970.9 1193.5,971.0 1194.5,971.2 C1195.5,971.3 1196.5,971.4 1197.5,971.5 C1198.5,971.6 1199.5,971.8 1200.5,971.9 C1201.5,972.0 1202.5,972.1 1203.5,972.2 C1204.5,972.3 1205.5,972.4 1206.5,972.5 C1207.5,972.6 1208.5,972.7 1209.5,972.7 C1210.5,972.8 1211.5,972.8 1212.5,972.9 C1213.5,972.9 1214.5,972.9 1215.5,973.0 C1216.5,973.0 1217.5,973.0 1218.5,973.0 C1219.5,973.1 1220.5,973.1 1221.5,973.1 C1222.5,973.1 1223.5,973.1 1224.5,973.2 C1225.5,973.2 1226.5,973.2 1227.5,973.2 C1228.5,973.2 1229.5,973.3 1230.5,973.3 C1231.5,973.3 1232.5,973.3 1233.5,973.4 C1234.5,973.4 1235.5,973.4 1236.5,973.5 C1237.5,973.5 1238.5,973.6 1239.5,973.6 C1240.5,973.6 1241.5,973.7 1242.5,973.8 C1243.5,973.8 1244.5,973.9 1245.5,973.9 C1246.5,974.0 1247.5,974.1 1248.5,974.1 C1249.5,974.2 1250.5,974.3 1251.5,974.3 C1252.5,974.4 1253.5,974.5 1254.5,974.5 C1255.5,974.6 1256.5,974.7 1257.5,974.8 C1258.5,974.8 1259.5,974.9 1260.5,975.0 C1261.5,975.1 1262.5,975.2 1263.5,975.3 C1264.5,975.4 1265.5,975.5 1266.5,975.7 C1267.5,975.8 1268.5,975.9 1269.5,976.1 C1270.5,976.2 1271.5,976.3 1272.5,976.5 C1273.5,976.6 1274.5,976.7 1275.5,976.8 C1276.5,976.9 1277.5,977.0 1278.5,977.1 C1279.5,977.2 1280.5,977.3 1281.5,977.3 C1282.5,977.4 1283.5,977.4 1284.5,977.4 C1285.5,977.4 1286.5,977.4 1287.5,977.4 C1288.5,977.4 1289.5,977.4 1290.5,977.4 C1291.5,977.4 1292.5,977.4 1293.5,977.4 C1294.5,977.4 1295.5,977.4 1296.5,977.4 C1297.5,977.4 1298.5,977.4 1299.5,977.4 C1300.5,977.4 1301.5,977.4 1302.5,977.4 C1303.5,977.4 1304.5,977.4 1305.5,977.4 C1306.5,977.4 1307.5,977.4 1308.5,977.4 C1309.5,977.4 1310.5,977.4 1311.5,977.4 C1312.5,977.4 1313.5,977.4 1314.5,977.4 C1315.5,977.4 1316.5,977.4 1317.5,977.3 C1318.5,977.3 1319.5,977.3 1320.5,977.2 C1321.5,977.2 1322.5,977.1 1323.5,977.1 C1324.5,977.0 1325.5,976.9 1326.5,976.9 C1327.5,976.8 1328.5,976.7 1329.5,976.6 C1330.5,976.6 1331.5,976.5 1332.5,976.4 C1333.5,976.3 1334.5,976.3 1335.5,976.2 C1336.5,976.1 1337.5,976.1 1338.5,976.0 C1339.5,976.0 1340.5,975.9 1341.5,975.9 C1342.5,975.9 1343.5,975.9 1344.5,975.9 C1345.5,975.9 1346.5,975.9 1347.5,975.9 C1348.5,975.9 1350.0,975.9 1350.5,975.9" fill="none" stroke="#000" stroke-width="10.4" stroke-linejoin="round" shape-rendering="crispEdges"/>
<path d="M165.4,1175.7 C165.9,1175.5 167.4,1175.0 168.4,1174.6 C169.4,1174.2 170.4,1173.9 171.4,1173.5 C172.4,1173.2 173.4,1172.8 174.4,1172.5 C175.4,1172.2 176.4,1171.9 177.4,1171.6 C178.4,1171.3 179.4,1171.1 180.4,1170.8 C181.4,1170.6 182.4,1170.3 183.4,1170.1 C184.4,1169.9 185.4,1169.6 186.4,1169.4 C187.4,1169.2 188.4,1169.0 189.4,1168.8 C190.4,1168.6 191.4,1168.3 192.4,1168.1 C193.4,1167.9 194.4,1167.6 195.4,1167.4 C196.4,1167.2 197.4,1166.9 198.4,1166.7 C199.4,1166.4 200.4,1166.1 201.4,1165.9 C202.4,1165.6 203.4,1165.3 204.4,1165.0 C205.4,1164.8 206.4,1164.5 207.4,1164.2 C208.4,1163.9 209.4,1163.6 210.4,1163.3 C211.4,1163.0 212.4,1162.7 213.4,1162.4 C214.4,1162.1 215.4,1161.8 216.4,1161.5 C217.4,1161.2 218.4,1160.9 219.4,1160.6 C220.4,1160.3 221.4,1160.0 222.4,1159.6 C223.4,1159.3 224.4,1159.0 225.4,1158.6 C226.4,1158.3 227.4,1157.9 228.4,1157.5 C229.4,1157.1 230.4,1156.7 231.4,1156.2 C232.4,1155.8 233.4,1155.3 234.4,1154.8 C235.4,1154.3 236.4,1153.8 237.4,1153.3 C238.4,1152.8 239.4,1152.3 240.4,1151.8 C241.4,1151.3 242.4,1150.9 243.4,1150.5 C244.4,1150.0 245.4,1149.6 246.4,1149.3 C247.4,1148.9 248.4,1148.5 249.4,1148.2 C250.4,1147.9 251.4,1147.6 252.4,1147.3 C253.4,1147.0 254.4,1146.7 255.4,1146.4 C256.4,1146.1 257.4,1145.8 258.4,1145.6 C259.4,1145.3 260.4,1145.0 261.4,1144.8 C262.4,1144.5 263.4,1144.2 264.4,1144.0 C265.4,1143.7 266.4,1143.4 267.4,1143.2 C268.4,1142.9 269.4,1142.6 270.4,1142.4 C271.4,1142.1 272.4,1141.8 273.4,1141.6 C274.4,1141.3 275.4,1141.1 276.4,1140.8 C277.4,1140.5 278.4,1140.2 279.4,1140.0 C280.4,1139.7 281.4,1139.4 282.4,1139.1 C283.4,1138.8 284.4,1138.5 285.4,1138.1 C286.4,1137.8 287.4,1137.4 288.4,1137.1 C289.4,1136.7 290.4,1136.3 291.4,1135.9 C292.4,1135.5 293.4,1135.1 294.4,1134.7 C295.4,1134.2 296.4,1133.8 297.4,1133.3 C298.4,1132.8 299.4,1132.3 300.4,1131.8 C301.4,1131.3 302.4,1130.7 303.4,1130.1 C304.4,1129.5 305.4,1128.8 306.4,1128.2 C307.4,1127.5 308.4,1126.8 309.4,1126.1 C310.4,1125.5 311.4,1124.8 312.4,1124.1 C313.4,1123.4 314.4,1122.8 315.4,1122.1 C316.4,1121.5 317.4,1120.9 318.4,1120.3 C319.4,1119.7 320.4,1119.1 321.4,1118.5 C322.4,1117.9 323.4,1117.3 324.4,1116.7 C325.4,1116.1 326.4,1115.5 327.4,1115.0 C328.4,1114.4 329.4,1113.8 330.4,1113.2 C331.4,1112.6 332.4,1112.0 333.4,1111.4 C334.4,1110.8 335.4,1110.2 336.4,1109.6 C337.4,1109.0 338.4,1108.4 339.4,1107.8 C340.4,1107.2 341.4,1106.6 342.4,1106.0 C343.4,1105.4 344.4,1104.8 345.4,1104.2 C346.4,1103.6 347.4,1103.0 348.4,1102.4 C349.4,1101.7 350.4,1101.1 351.4,1100.5 C352.4,1099.8 353.4,1099.2 354.4,1098.5 C355.4,1097.8 356.4,1097.0 357.4,1096.2 C358.4,1095.5 359.4,1094.7 360.4,1093.8 C361.4,1093.0 362.4,1092.2 363.4,1091.3 C364.4,1090.5 365.4,1089.6 366.4,1088.8 C367.4,1087.9 368.4,1087.1 369.4,1086.3 C370.4,1085.5 371.4,1084.7 372.4,1083.8 C373.4,1083.0 374.4,1082.2 375.4,1081.4 C376.4,1080.5 377.4,1079.7 378.4,1078.8 C379.4,1077.9 380.4,1077.0 381.4,1076.1 C382.4,1075.2 383.4,1074.3 384.4,1073.3 C385.4,1072.4 386.4,1071.5 387.4,1070.5 C388.4,1069.6 389.4,1068.6 390.4,1067.7 C391.4,1066.8 392.4,1065.9 393.4,1065.0 C394.4,1064.1 395.4,1063.2 396.4,1062.4 C397.4,1061.5 398.4,1060.7 399.4,1059.9 C400.4,1059.1 401.4,1058.3 402.4,1057.4 C403.4,1056.5 404.4,1055.6 405.4,1054.5 C406.4,1053.4 407.4,1052.3 408.4,1050.9 C409.4,1049.5 410.4,1047.9 411.4,1046.0 C412.4,1044.2 413.4,1042.0 414.4,1039.8 C415.4,1037.5 416.4,1034.9 417.4,1032.4 C418.4,1029.9 419.4,1027.3 420.4,1024.8 C421.4,1022.3 422.4,1019.8 423.4,1017.4 C424.4,1014.9 425.4,1012.5 426.4,1010.1 C427.4,1007.7 428.4,1005.2 429.4,1002.7 C430.4,1000.2 431.4,997.6 432.4,995.0 C433.4,992.3 434.4,989.7 435.4,987.0 C436.4,984.4 437.4,981.7 438.4,979.1 C439.4,976.4 440.4,973.8 441.4,971.1 C442.4,968.5 443.4,965.8 444.4,963.2 C445.4,960.6 446.4,958.0 447.4,955.5 C448.4,952.9 449.4,950.4 450.4,948.0 C451.4,945.7 452.4,943.3 453.4,941.1 C454.4,938.9 455.4,936.8 456.4,934.8 C457.4,932.7 458.4,930.7 459.4,928.9 C460.4,927.1 461.4,925.3 462.4,923.7 C463.4,922.1 464.4,920.6 465.4,919.3 C466.4,918.0 467.4,916.9 468.4,916.1 C469.4,915.2 470.4,914.5 471.4,914.0 C472.4,913.5 473.4,913.3 474.4,913.1 C475.4,912.9 476.4,912.8 477.4,912.9 C478.4,912.9 479.4,913.1 480.4,913.5 C481.4,913.9 482.4,914.4 483.4,915.2 C484.4,916.0 485.4,917.0 486.4,918.3 C487.4,919.6 488.4,921.1 489.4,922.7 C490.4,924.4 491.4,926.2 492.4,928.0 C493.4,929.8 494.4,931.7 495.4,933.7 C496.4,935.6 497.4,937.6 498.4,939.7 C499.4,941.8 500.4,944.0 501.4,946.3 C502.4,948.6 503.4,951.0 504.4,953.5 C505.4,956.0 506.4,958.6 507.4,961.2 C508.4,963.9 509.4,966.6 510.4,969.2 C511.4,971.9 512.4,974.6 513.4,977.3 C514.4,979.9 515.4,982.6 516.4,985.1 C517.4,987.7 518.4,990.2 519.4,992.6 C520.4,995.1 521.4,997.4 522.4,999.7 C523.4,1002.0 524.4,1004.2 525.4,1006.4 C526.4,1008.5 527.4,1010.6 528.4,1012.7 C529.4,1014.7 530.4,1016.7 531.4,1018.7 C532.4,1020.6 533.4,1022.6 534.4,1024.4 C535.4,1026.3 536.4,1028.1 537.4,1029.9 C538.4,1031.6 539.4,1033.3 540.4,1034.9 C541.4,1036.5 542.4,1038.0 543.4,1039.4 C544.4,1040.8 545.4,1042.1 546.4,1043.4 C547.4,1044.6 548.4,1045.7 549.4,1046.9 C550.4,1048.0 551.4,1049.1 552.4,1050.2 C553.4,1051.3 554.4,1052.4 555.4,1053.5 C556.4,1054.7 557.4,1055.8 558.4,1056.9 C559.4,1058.0 560.4,1059.1 561.4,1060.3 C562.4,1061.4 563.4,1062.5 564.4,1063.6 C565.4,1064.7 566.4,1065.7 567.4,1066.8 C568.4,1067.9 569.4,1068.9 570.4,1069.9 C571.4,1070.9 572.4,1071.9 573.4,1072.8 C574.4,1073.7 575.4,1074.6 576.4,1075.4 C577.4,1076.2 578.4,1077.0 579.4,1077.7 C580.4,1078.5 581.4,1079.2 582.4,1079.9 C583.4,1080.6 584.4,1081.3 585.4,1082.0 C586.4,1082.7 587.4,1083.5 588.4,1084.2 C589.4,1085.0 590.4,1085.8 591.4,1086.6 C592.4,1087.4 593.4,1088.2 594.4,1089.0 C595.4,1089.8 596.4,1090.6 597.4,1091.3 C598.4,1091.9 599.4,1092.6 600.4,1093.2 C601.4,1093.8 602.4,1094.3 603.4,1094.8 C604.4,1095.2 605.4,1095.7 606.4,1096.1 C607.4,1096.4 608.4,1096.8 609.4,1097.1 C610.4,1097.4 611.4,1097.7 612.4,1097.9 C613.4,1098.1 614.4,1098.3 615.4,1098.5 C616.4,1098.7 617.4,1098.9 618.4,1099.0 C619.4,1099.2 620.4,1099.3 621.4,1099.4 C622.4,1099.6 623.4,1099.7 624.4,1099.8 C625.4,1099.9 626.4,1100.0 627.4,1100.0 C628.4,1100.1 629.4,1100.2 630.4,1100.3 C631.4,1100.4 632.4,1100.4 633.4,1100.5 C634.4,1100.6 635.4,1100.6 636.4,1100.7 C637.4,1100.7 638.4,1100.8 639.4,1100.8 C640.4,1100.8 641.4,1100.8 642.4,1100.8 C643.4,1100.8 644.4,1100.8 645.4,1100.8 C646.4,1100.8 647.4,1100.8 648.4,1100.8 C649.4,1100.8 650.4,1100.8 651.4,1100.7 C652.4,1100.7 653.4,1100.7 654.4,1100.6 C655.4,1100.6 656.4,1100.6 657.4,1100.5 C658.4,1100.5 659.4,1100.4 660.4,1100.4 C661.4,1100.3 662.4,1100.2 663.4,1100.1 C664.4,1100.0 665.4,1099.9 666.4,1099.7 C667.4,1099.6 668.4,1099.4 669.4,1099.2 C670.4,1098.9 671.4,1098.7 672.4,1098.4 C673.4,1098.1 674.4,1097.8 675.4,1097.5 C676.4,1097.2 677.4,1096.9 678.4,1096.5 C679.4,1096.2 680.4,1095.9 681.4,1095.6 C682.4,1095.2 683.4,1094.9 684.4,1094.5 C685.4,1094.2 686.4,1093.8 687.4,1093.4 C688.4,1093.1 689.4,1092.7 690.4,1092.3 C691.4,1091.9 692.4,1091.5 693.4,1091.1 C694.4,1090.6 695.4,1090.2 696.4,1089.8 C697.4,1089.3 698.4,1088.9 699.4,1088.4 C700.4,1087.9 701.4,1087.5 702.4,1087.0 C703.4,1086.4 704.4,1085.9 705.4,1085.4 C706.4,1084.8 707.4,1084.3 708.4,1083.7 C709.4,1083.1 710.4,1082.5 711.4,1081.9 C712.4,1081.3 713.4,1080.6 714.4,1079.9 C715.4,1079.3 716.4,1078.5 717.4,1077.8 C718.4,1077.0 719.4,1076.2 720.4,1075.3 C721.4,1074.4 722.4,1073.4 723.4,1072.3 C724.4,1071.3 725.4,1070.2 726.4,1069.1 C727.4,1068.0 728.4,1066.8 729.4,1065.7 C730.4,1064.5 731.4,1063.3 732.4,1062.2 C733.4,1061.0 734.4,1059.8 735.4,1058.5 C736.4,1057.2 737.4,1055.9 738.4,1054.3 C739.4,1052.8 740.4,1051.2 741.4,1049.3 C742.4,1047.5 743.4,1045.4 744.4,1043.2 C745.4,1041.0 746.4,1038.5 747.4,1035.9 C748.4,1033.3 749.4,1030.5 750.4,1027.7 C751.4,1024.8 752.4,1021.8 753.4,1018.7 C754.4,1015.7 755.4,1012.5 756.4,1009.3 C757.4,1006.1 758.4,1002.9 759.4,999.6 C760.4,996.4 761.4,993.1 762.4,989.9 C763.4,986.6 764.4,983.4 765.4,980.2 C766.4,977.0 767.4,973.7 768.4,970.6 C769.4,967.6 770.4,964.5 771.4,961.6 C772.4,958.7 773.4,956.0 774.4,953.4 C775.4,950.8 776.4,948.5 777.4,946.3 C778.4,944.1 779.4,942.1 780.4,940.2 C781.4,938.3 782.4,936.6 783.4,935.0 C784.4,933.5 785.4,932.0 786.4,930.7 C787.4,929.4 788.4,928.2 789.4,927.2 C790.4,926.2 791.4,925.4 792.4,924.8 C793.4,924.1 794.4,923.7 795.4,923.4 C796.4,923.1 797.4,923.0 798.4,923.1 C799.4,923.2 800.4,923.5 801.4,924.0 C802.4,924.5 803.4,925.2 804.4,926.3 C805.4,927.3 806.4,928.7 807.4,930.3 C808.4,932.0 809.4,934.0 810.4,936.3 C811.4,938.5 812.4,941.1 813.4,943.8 C814.4,946.4 815.4,949.3 816.4,952.1 C817.4,954.9 818.4,957.7 819.4,960.5 C820.4,963.4 821.4,966.2 822.4,969.1 C823.4,972.0 824.4,974.9 825.4,978.0 C826.4,981.2 827.4,984.4 828.4,988.0 C829.4,991.5 830.4,995.3 831.4,999.1 C832.4,1003.0 833.4,1007.1 834.4,1011.2 C835.4,1015.3 836.4,1019.5 837.4,1023.6 C838.4,1027.7 839.4,1031.8 840.4,1035.8 C841.4,1039.8 842.4,1043.8 843.4,1047.6 C844.4,1051.4 845.4,1055.1 846.4,1058.6 C847.4,1062.2 848.4,1065.5 849.4,1068.8 C850.4,1072.0 851.4,1075.1 852.4,1078.1 C853.4,1081.1 854.4,1083.9 855.4,1086.8 C856.4,1089.7 857.4,1092.5 858.4,1095.3 C859.4,1098.1 860.4,1100.9 861.4,1103.7 C862.4,1106.5 863.4,1109.4 864.4,1112.1 C865.4,1114.9 866.4,1117.6 867.4,1120.2 C868.4,1122.7 869.4,1125.2 870.4,1127.5 C871.4,1129.8 872.4,1132.0 873.4,1134.0 C874.4,1136.0 875.4,1137.8 876.4,1139.6 C877.4,1141.3 878.4,1142.9 879.4,1144.5 C880.4,1146.0 881.4,1147.5 882.4,1148.9 C883.4,1150.3 884.4,1151.6 885.4,1153.0 C886.4,1154.3 887.4,1155.6 888.4,1156.9 C889.4,1158.2 890.4,1159.6 891.4,1160.9 C892.4,1162.2 893.4,1163.5 894.4,1164.8 C895.4,1166.1 896.4,1167.4 897.4,1168.7 C898.4,1169.9 899.4,1171.1 900.4,1172.3 C901.4,1173.4 902.4,1174.5 903.4,1175.6 C904.4,1176.6 905.4,1177.6 906.4,1178.5 C907.4,1179.5 908.4,1180.4 909.4,1181.2 C910.4,1182.1 911.4,1182.9 912.4,1183.7 C913.4,1184.5 914.4,1185.3 915.4,1186.0 C916.4,1186.7 917.4,1187.5 918.4,1188.2 C919.4,1188.9 920.4,1189.5 921.4,1190.2 C922.4,1190.9 923.4,1191.5 924.4,1192.2 C925.4,1192.8 926.4,1193.4 927.4,1194.0 C928.4,1194.6 929.4,1195.2 930.4,1195.7 C931.4,1196.2 932.4,1196.7 933.4,1197.1 C934.4,1197.6 935.4,1198.0 936.4,1198.4 C937.4,1198.7 938.4,1199.1 939.4,1199.4 C940.4,1199.7 941.4,1200.0 942.4,1200.2 C943.4,1200.5 944.4,1200.8 945.4,1201.0 C946.4,1201.3 947.4,1201.5 948.4,1201.7 C949.4,1202.0 950.4,1202.2 951.4,1202.5 C952.4,1202.7 953.4,1202.9 954.4,1203.2 C955.4,1203.4 956.4,1203.7 957.4,1203.9 C958.4,1204.1 959.4,1204.4 960.4,1204.6 C961.4,1204.8 962.4,1205.1 963.4,1205.3 C964.4,1205.5 965.4,1205.7 966.4,1205.9 C967.4,1206.2 968.4,1206.4 969.4,1206.6 C970.4,1206.8 971.4,1206.9 972.4,1207.1 C973.4,1207.3 974.4,1207.5 975.4,1207.7 C976.4,1207.8 977.4,1208.0 978.4,1208.2 C979.4,1208.3 980.4,1208.5 981.4,1208.7 C982.4,1208.8 983.4,1209.0 984.4,1209.1 C985.4,1209.3 986.4,1209.4 987.4,1209.5 C988.4,1209.7 989.4,1209.8 990.4,1209.9 C991.4,1210.1 992.4,1210.2 993.4,1210.3 C994.4,1210.4 995.4,1210.6 996.4,1210.7 C997.4,1210.8 998.4,1210.9 999.4,1211.1 C1000.4,1211.2 1001.4,1211.4 1002.4,1211.5 C1003.4,1211.7 1004.4,1211.8 1005.4,1212.0 C1006.4,1212.1 1007.4,1212.3 1008.4,1212.5 C1009.4,1212.6 1010.4,1212.8 1011.4,1213.0 C1012.4,1213.2 1013.4,1213.3 1014.4,1213.5 C1015.4,1213.7 1016.4,1213.9 1017.4,1214.1 C1018.4,1214.2 1019.4,1214.4 1020.4,1214.6 C1021.4,1214.8 1022.4,1215.0 1023.4,1215.2 C1024.4,1215.3 1025.4,1215.5 1026.4,1215.7 C1027.4,1215.9 1028.4,1216.0 1029.4,1216.2 C1030.4,1216.3 1031.4,1216.5 1032.4,1216.6 C1033.4,1216.7 1034.4,1216.8 1035.4,1216.9 C1036.4,1217.0 1037.4,1217.0 1038.4,1217.1 C1039.4,1217.2 1040.4,1217.2 1041.4,1217.2 C1042.4,1217.3 1043.4,1217.3 1044.4,1217.3 C1045.4,1217.4 1046.4,1217.4 1047.4,1217.4 C1048.4,1217.5 1049.4,1217.5 1050.4,1217.5 C1051.4,1217.6 1052.4,1217.6 1053.4,1217.6 C1054.4,1217.7 1055.4,1217.7 1056.4,1217.7 C1057.4,1217.8 1058.4,1217.8 1059.4,1217.8 C1060.4,1217.9 1061.4,1217.9 1062.4,1218.0 C1063.4,1218.0 1064.4,1218.0 1065.4,1218.1 C1066.4,1218.1 1067.4,1218.1 1068.4,1218.1 C1069.4,1218.2 1070.4,1218.2 1071.4,1218.2 C1072.4,1218.2 1073.4,1218.2 1074.4,1218.3 C1075.4,1218.3 1076.4,1218.3 1077.4,1218.3 C1078.4,1218.3 1079.4,1218.3 1080.4,1218.3 C1081.4,1218.3 1082.4,1218.3 1083.4,1218.3 C1084.4,1218.3 1085.4,1218.3 1086.4,1218.3 C1087.4,1218.3 1088.4,1218.3 1089.4,1218.3 C1090.4,1218.3 1091.4,1218.3 1092.4,1218.3 C1093.4,1218.3 1094.4,1218.3 1095.4,1218.3 C1096.4,1218.3 1097.4,1218.3 1098.4,1218.3 C1099.4,1218.3 1100.4,1218.3 1101.4,1218.3 C1102.4,1218.3 1103.4,1218.3 1104.4,1218.3 C1105.4,1218.4 1106.4,1218.4 1107.4,1218.4 C1108.4,1218.5 1109.4,1218.5 1110.4,1218.5 C1111.4,1218.6 1112.4,1218.7 1113.4,1218.7 C1114.4,1218.8 1115.4,1218.8 1116.4,1218.9 C1117.4,1219.0 1118.4,1219.0 1119.4,1219.1 C1120.4,1219.2 1121.4,1219.2 1122.4,1219.3 C1123.4,1219.3 1124.4,1219.4 1125.4,1219.4 C1126.4,1219.5 1127.4,1219.5 1128.4,1219.6 C1129.4,1219.6 1130.4,1219.7 1131.4,1219.7 C1132.4,1219.7 1133.4,1219.8 1134.4,1219.8 C1135.4,1219.8 1136.4,1219.9 1137.4,1219.9 C1138.4,1219.9 1139.4,1220.0 1140.4,1220.0 C1141.4,1220.0 1142.4,1220.1 1143.4,1220.1 C1144.4,1220.2 1145.4,1220.2 1146.4,1220.2 C1147.4,1220.3 1148.4,1220.3 1149.4,1220.4 C1150.4,1220.4 1151.4,1220.5 1152.4,1220.5 C1153.4,1220.6 1154.4,1220.6 1155.4,1220.7 C1156.4,1220.7 1157.4,1220.8 1158.4,1220.8 C1159.4,1220.9 1160.4,1221.0 1161.4,1221.0 C1162.4,1221.1 1163.4,1221.2 1164.4,1221.2 C1165.4,1221.3 1166.4,1221.4 1167.4,1221.4 C1168.4,1221.5 1169.4,1221.6 1170.4,1221.6 C1171.4,1221.7 1172.4,1221.8 1173.4,1221.8 C1174.4,1221.9 1175.4,1222.0 1176.4,1222.0 C1177.4,1222.1 1178.4,1222.2 1179.4,1222.3 C1180.4,1222.3 1181.4,1222.4 1182.4,1222.5 C1183.4,1222.6 1184.4,1222.7 1185.4,1222.7 C1186.4,1222.8 1187.4,1222.9 1188.4,1223.0 C1189.4,1223.1 1190.4,1223.1 1191.4,1223.2 C1192.4,1223.2 1193.4,1223.3 1194.4,1223.3 C1195.4,1223.4 1196.4,1223.4 1197.4,1223.4 C1198.4,1223.4 1199.4,1223.4 1200.4,1223.4 C1201.4,1223.4 1202.4,1223.4 1203.4,1223.4 C1204.4,1223.3 1205.4,1223.3 1206.4,1223.2 C1207.4,1223.2 1208.4,1223.2 1209.4,1223.1 C1210.4,1223.0 1211.4,1223.0 1212.4,1222.9 C1213.4,1222.9 1214.4,1222.8 1215.4,1222.8 C1216.4,1222.7 1217.4,1222.7 1218.4,1222.6 C1219.4,1222.6 1220.4,1222.6 1221.4,1222.6 C1222.4,1222.6 1223.4,1222.6 1224.4,1222.6 C1225.4,1222.6 1226.4,1222.7 1227.4,1222.8 C1228.4,1222.9 1229.4,1223.0 1230.4,1223.1 C1231.4,1223.2 1232.4,1223.4 1233.4,1223.5 C1234.4,1223.7 1235.4,1223.8 1236.4,1224.0 C1237.4,1224.2 1238.4,1224.4 1239.4,1224.5 C1240.4,1224.7 1241.4,1224.8 1242.4,1225.0 C1243.4,1225.1 1244.4,1225.2 1245.4,1225.3 C1246.4,1225.4 1247.4,1225.5 1248.4,1225.6 C1249.4,1225.7 1250.4,1225.7 1251.4,1225.8 C1252.4,1225.9 1253.4,1225.9 1254.4,1226.0 C1255.4,1226.0 1256.4,1226.1 1257.4,1226.1 C1258.4,1226.1 1259.4,1226.2 1260.4,1226.2 C1261.4,1226.3 1262.4,1226.3 1263.4,1226.3 C1264.4,1226.4 1265.4,1226.4 1266.4,1226.4 C1267.4,1226.4 1268.4,1226.5 1269.4,1226.5 C1270.4,1226.5 1271.4,1226.5 1272.4,1226.5 C1273.4,1226.5 1274.4,1226.4 1275.4,1226.4 C1276.4,1226.4 1277.4,1226.4 1278.4,1226.3 C1279.4,1226.3 1280.4,1226.2 1281.4,1226.2 C1282.4,1226.1 1283.4,1226.0 1284.4,1226.0 C1285.4,1225.9 1286.4,1225.8 1287.4,1225.7 C1288.4,1225.7 1289.4,1225.6 1290.4,1225.5 C1291.4,1225.4 1292.4,1225.3 1293.4,1225.2 C1294.4,1225.1 1295.4,1225.0 1296.4,1224.9 C1297.4,1224.8 1298.4,1224.7 1299.4,1224.6 C1300.4,1224.5 1301.4,1224.3 1302.4,1224.2 C1303.4,1224.1 1304.4,1223.9 1305.4,1223.8 C1306.4,1223.6 1307.4,1223.5 1308.4,1223.3 C1309.4,1223.2 1310.4,1223.0 1311.4,1222.9 C1312.4,1222.8 1313.4,1222.7 1314.4,1222.6 C1315.4,1222.4 1316.4,1222.3 1317.4,1222.3 C1318.4,1222.2 1319.4,1222.1 1320.4,1222.0 C1321.4,1221.9 1322.4,1221.8 1323.4,1221.7 C1324.4,1221.7 1325.4,1221.6 1326.4,1221.5 C1327.4,1221.5 1328.4,1221.4 1329.4,1221.4 C1330.4,1221.4 1331.4,1221.3 1332.4,1221.3 C1333.4,1221.3 1334.4,1221.3 1335.4,1221.3 C1336.4,1221.3 1337.4,1221.3 1338.4,1221.4 C1339.4,1221.4 1340.4,1221.4 1341.4,1221.4 C1342.4,1221.5 1343.4,1221.5 1344.4,1221.5 C1345.4,1221.6 1346.4,1221.6 1347.4,1221.7 C1348.4,1221.8 1349.9,1221.9 1350.4,1221.9" fill="none" stroke="#ff0000" stroke-width="10.4" stroke-linejoin="round" shape-rendering="crispEdges"/>
<path d="M165.2,698.6 L166.5,698.3 L167.8,697.3 L169.1,696.7 L170.5,695.6 L171.8,695.2 L173.1,694.7 L174.4,694.1 L175.7,695.1 L177.1,695.1 L178.4,694.6 L179.7,695.4 L181.0,696.4 L182.3,696.8 L183.7,696.9 L185.0,697.1 L186.3,696.0 L187.6,694.3 L188.9,691.9 L190.3,692.9 L191.6,695.5 L192.9,696.7 L194.2,698.1 L195.5,699.9 L196.9,698.7 L198.2,697.3 L199.5,696.9 L200.8,696.8 L202.1,698.1 L203.5,698.3 L204.8,698.7 L206.1,699.5 L207.4,699.2 L208.7,699.6 L210.1,699.3 L211.4,699.9 L212.7,701.3 L214.0,703.6 L215.3,704.6 L216.7,704.1 L218.0,704.5 L219.3,704.8 L220.6,704.4 L221.9,702.3 L223.3,700.2 L224.6,699.5 L225.9,701.9 L227.2,704.7 L228.5,705.3 L229.9,706.3 L231.2,707.0 L232.5,705.3 L233.8,703.5 L235.1,702.2 L236.5,700.6 L237.8,700.0 L239.1,700.4 L240.4,702.0 L241.7,703.2 L243.1,703.0 L244.4,701.4 L245.7,700.0 L247.0,700.8 L248.3,701.5 L249.7,699.3 L251.0,696.5 L252.3,694.3 L253.6,692.7 L254.9,691.3 L256.3,691.2 L257.6,693.0 L258.9,693.5 L260.2,694.4 L261.5,696.0 L262.9,696.0 L264.2,695.0 L265.5,694.9 L266.8,694.6 L268.1,691.6 L269.5,689.0 L270.8,688.3 L272.1,687.4 L273.4,686.3 L274.7,685.0 L276.1,684.3 L277.4,683.0 L278.7,682.2 L280.0,682.1 L281.3,681.1 L282.7,679.2 L284.0,678.3 L285.3,678.0 L286.6,677.3 L287.9,676.8 L289.3,676.5 L290.6,677.1 L291.9,678.1 L293.2,677.1 L294.5,675.5 L295.9,674.6 L297.2,674.3 L298.5,673.8 L299.8,672.1 L301.1,669.8 L302.5,668.7 L303.8,668.0 L305.1,667.7 L306.4,666.8 L307.7,665.8 L309.1,664.9 L310.4,664.9 L311.7,665.8 L313.0,666.6 L314.3,666.3 L315.7,665.3 L317.0,665.5 L318.3,665.6 L319.6,665.2 L320.9,665.5 L322.3,666.4 L323.6,664.4 L324.9,662.6 L326.2,661.9 L327.5,660.7 L328.9,660.1 L330.2,660.1 L331.5,659.6 L332.8,659.1 L334.1,658.8 L335.5,657.7 L336.8,656.4 L338.1,655.6 L339.4,655.0 L340.7,654.4 L342.1,652.9 L343.4,652.1 L344.7,652.6 L346.0,652.0 L347.3,651.9 L348.7,652.9 L350.0,653.2 L351.3,652.9 L352.6,651.6 L353.9,650.1 L355.3,649.3 L356.6,649.1 L357.9,648.7 L359.2,647.9 L360.5,647.1 L361.9,646.2 L363.2,645.7 L364.5,645.3 L365.8,646.4 L367.1,647.9 L368.5,648.9 L369.8,648.8 L371.1,647.7 L372.4,649.1 L373.7,650.6 L375.1,650.8 L376.4,650.5 L377.7,651.2 L379.0,650.5 L380.3,648.1 L381.7,647.5 L383.0,646.8 L384.3,645.0 L385.6,644.0 L386.9,642.5 L388.3,641.4 L389.6,641.0 L390.9,640.8 L392.2,640.3 L393.5,639.6 L394.9,638.0 L396.2,637.4 L397.5,637.7 L398.8,637.3 L400.1,636.4 L401.5,636.9 L402.8,636.9 L404.1,636.4 L405.4,635.6 L406.7,634.7 L408.1,632.4 L409.4,629.6 L410.7,626.8 L412.0,625.0 L413.3,622.4 L414.7,619.7 L416.0,617.0 L417.3,615.8 L418.6,615.4 L419.9,613.6 L421.3,612.6 L422.6,613.2 L423.9,611.7 L425.2,610.9 L426.5,608.1 L427.9,603.8 L429.2,599.6 L430.5,597.1 L431.8,593.9 L433.1,591.3 L434.5,590.4 L435.8,590.6 L437.1,590.0 L438.4,589.0 L439.7,586.5 L441.1,581.8 L442.4,577.3 L443.7,573.7 L445.0,570.2 L446.3,566.1 L447.7,563.9 L449.0,561.1 L450.3,558.8 L451.6,557.0 L452.9,554.6 L454.3,551.6 L455.6,548.5 L456.9,545.4 L458.2,541.9 L459.5,539.3 L460.9,537.3 L462.2,536.2 L463.5,536.3 L464.8,536.8 L466.1,538.0 L467.5,539.4 L468.8,538.0 L470.1,535.8 L471.4,534.3 L472.7,532.2 L474.1,529.9 L475.4,527.8 L476.7,524.9 L478.0,521.2 L479.3,520.4 L480.7,520.7 L482.0,520.3 L483.3,520.0 L484.6,521.4 L485.9,522.0 L487.3,522.7 L488.6,523.3 L489.9,524.8 L491.2,525.4 L492.5,526.6 L493.9,528.6 L495.2,531.4 L496.5,534.1 L497.8,536.8 L499.1,539.5 L500.5,542.1 L501.8,544.5 L503.1,544.6 L504.4,544.7 L505.7,546.0 L507.1,547.5 L508.4,548.8 L509.7,552.3 L511.0,555.4 L512.3,560.7 L513.7,565.7 L515.0,567.6 L516.3,569.6 L517.6,572.4 L518.9,575.0 L520.3,578.6 L521.6,582.6 L522.9,586.8 L524.2,589.9 L525.5,592.6 L526.9,596.3 L528.2,599.5 L529.5,601.6 L530.8,603.8 L532.1,604.9 L533.5,607.2 L534.8,607.7 L536.1,607.5 L537.4,609.0 L538.7,612.6 L540.1,615.8 L541.4,617.9 L542.7,619.7 L544.0,620.6 L545.3,621.9 L546.7,624.6 L548.0,626.2 L549.3,627.4 L550.6,629.6 L551.9,631.1 L553.3,633.7 L554.6,637.4 L555.9,640.3 L557.2,640.5 L558.5,641.0 L559.9,640.8 L561.2,641.3 L562.5,641.4 L563.8,641.5 L565.1,643.8 L566.5,646.0 L567.8,647.1 L569.1,648.7 L570.4,650.3 L571.7,650.4 L573.1,650.7 L574.4,651.7 L575.7,653.0 L577.0,655.0 L578.3,655.3 L579.7,655.1 L581.0,656.6 L582.3,659.1 L583.6,658.9 L584.9,659.2 L586.3,661.0 L587.6,662.1 L588.9,661.8 L590.2,661.1 L591.5,661.4 L592.9,661.8 L594.2,660.5 L595.5,659.1 L596.8,660.2 L598.1,661.1 L599.5,661.0 L600.8,661.4 L602.1,662.1 L603.4,661.5 L604.7,661.1 L606.1,661.4 L607.4,661.1 L608.7,661.2 L610.0,661.1 L611.3,662.6 L612.7,664.5 L614.0,665.9 L615.3,665.5 L616.6,665.3 L617.9,665.9 L619.3,666.5 L620.6,667.5 L621.9,668.9 L623.2,669.1 L624.5,668.4 L625.9,667.3 L627.2,667.9 L628.5,667.9 L629.8,666.0 L631.1,664.9 L632.5,666.1 L633.8,666.5 L635.1,666.4 L636.4,667.8 L637.7,668.7 L639.1,669.4 L640.4,670.6 L641.7,671.0 L643.0,670.5 L644.3,670.3 L645.7,670.0 L647.0,669.5 L648.3,669.6 L649.6,669.2 L650.9,667.6 L652.3,666.4 L653.6,666.5 L654.9,665.8 L656.2,666.2 L657.5,666.6 L658.9,664.9 L660.2,662.9 L661.5,662.6 L662.8,663.5 L664.1,663.2 L665.5,662.9 L666.8,662.8 L668.1,663.2 L669.4,663.5 L670.7,663.3 L672.1,663.2 L673.4,665.1 L674.7,666.0 L676.0,665.3 L677.3,664.2 L678.7,662.8 L680.0,663.0 L681.3,663.3 L682.6,662.8 L683.9,662.7 L685.3,663.0 L686.6,664.5 L687.9,665.2 L689.2,666.0 L690.5,667.0 L691.9,667.1 L693.2,666.7 L694.5,666.7 L695.8,667.3 L697.1,669.1 L698.5,670.2 L699.8,671.0 L701.1,671.0 L702.4,670.0 L703.7,670.6 L705.1,671.6 L706.4,673.4 L707.7,672.9 L709.0,670.0 L710.3,668.0 L711.7,667.7 L713.0,667.9 L714.3,667.2 L715.6,666.8 L716.9,666.4 L718.3,663.6 L719.6,661.8 L720.9,660.4 L722.2,659.0 L723.5,656.7 L724.9,655.3 L726.2,654.4 L727.5,653.4 L728.8,653.1 L730.1,652.2 L731.5,651.2 L732.8,648.9 L734.1,647.0 L735.4,644.4 L736.7,641.9 L738.1,639.3 L739.4,637.2 L740.7,636.1 L742.0,634.6 L743.3,632.7 L744.7,630.5 L746.0,628.9 L747.3,625.8 L748.6,622.0 L749.9,616.6 L751.3,612.4 L752.6,610.1 L753.9,608.1 L755.2,605.9 L756.5,602.7 L757.9,599.2 L759.2,598.7 L760.5,598.5 L761.8,598.1 L763.1,597.3 L764.5,596.8 L765.8,594.8 L767.1,591.3 L768.4,586.0 L769.7,584.4 L771.1,583.7 L772.4,581.8 L773.7,579.4 L775.0,576.8 L776.3,574.3 L777.7,572.5 L779.0,569.9 L780.3,566.0 L781.6,563.3 L782.9,562.9 L784.3,562.5 L785.6,562.2 L786.9,561.3 L788.2,560.2 L789.5,559.4 L790.9,558.2 L792.2,558.2 L793.5,557.2 L794.8,555.1 L796.1,554.2 L797.5,553.6 L798.8,553.9 L800.1,553.5 L801.4,552.4 L802.7,552.1 L804.1,551.1 L805.4,550.4 L806.7,550.3 L808.0,550.3 L809.3,550.3 L810.7,550.2 L812.0,551.8 L813.3,554.8 L814.6,557.2 L815.9,558.3 L817.3,560.2 L818.6,563.3 L819.9,565.7 L821.2,566.6 L822.5,567.8 L823.9,570.7 L825.2,573.6 L826.5,575.5 L827.8,579.0 L829.1,582.2 L830.5,585.6 L831.8,589.8 L833.1,593.5 L834.4,597.2 L835.7,599.5 L837.1,600.2 L838.4,600.4 L839.7,601.1 L841.0,605.2 L842.3,610.9 L843.7,617.5 L845.0,622.2 L846.3,626.4 L847.6,630.4 L848.9,632.8 L850.3,635.4 L851.6,638.1 L852.9,641.3 L854.2,644.1 L855.5,648.4 L856.9,654.1 L858.2,659.4 L859.5,662.8 L860.8,665.5 L862.1,669.1 L863.5,672.1 L864.8,674.3 L866.1,675.9 L867.4,677.0 L868.7,678.9 L870.1,681.5 L871.4,683.3 L872.7,685.7 L874.0,686.7 L875.3,687.4 L876.7,688.9 L878.0,689.8 L879.3,690.3 L880.6,690.4 L881.9,689.0 L883.3,688.7 L884.6,690.0 L885.9,691.9 L887.2,693.7 L888.5,695.3 L889.9,696.7 L891.2,698.2 L892.5,698.3 L893.8,698.3 L895.1,698.1 L896.5,698.3 L897.8,699.5 L899.1,699.3 L900.4,698.1 L901.7,699.2 L903.1,702.1 L904.4,704.1 L905.7,704.8 L907.0,705.9 L908.3,707.8 L909.7,710.5 L911.0,711.3 L912.3,711.9 L913.6,712.8 L914.9,713.7 L916.3,714.3 L917.6,714.8 L918.9,716.1 L920.2,717.3 L921.5,718.4 L922.9,718.4 L924.2,719.3 L925.5,720.2 L926.8,720.6 L928.1,719.7 L929.5,718.9 L930.8,718.9 L932.1,719.5 L933.4,721.2 L934.7,723.3 L936.1,725.0 L937.4,726.1 L938.7,727.7 L940.0,729.8 L941.3,731.2 L942.7,731.4 L944.0,731.7 L945.3,731.3 L946.6,730.4 L947.9,729.7 L949.3,729.4 L950.6,729.8 L951.9,731.2 L953.2,732.5 L954.5,733.3 L955.9,732.6 L957.2,732.0 L958.5,731.2 L959.8,730.7 L961.1,731.4 L962.5,732.8 L963.8,733.3 L965.1,734.9 L966.4,735.7 L967.7,735.6 L969.1,736.3 L970.4,736.5 L971.7,736.7 L973.0,736.6 L974.3,736.3 L975.7,735.7 L977.0,735.7 L978.3,735.4 L979.6,735.4 L980.9,735.8 L982.3,735.9 L983.6,736.2 L984.9,737.0 L986.2,737.0 L987.5,736.4 L988.9,737.0 L990.2,737.2 L991.5,736.5 L992.8,736.2 L994.1,736.1 L995.5,737.9 L996.8,738.8 L998.1,740.0 L999.4,741.6 L1000.7,742.4 L1002.1,743.2 L1003.4,742.6 L1004.7,741.9 L1006.0,741.6 L1007.3,742.3 L1008.7,743.0 L1010.0,742.7 L1011.3,741.9 L1012.6,740.4 L1013.9,739.6 L1015.3,739.8 L1016.6,740.1 L1017.9,739.8 L1019.2,739.6 L1020.5,739.5 L1021.9,739.0 L1023.2,739.1 L1024.5,739.8 L1025.8,740.7 L1027.1,742.6 L1028.5,744.9 L1029.8,746.0 L1031.1,747.2 L1032.4,748.6 L1033.7,750.3 L1035.1,748.3 L1036.4,747.3 L1037.7,747.7 L1039.0,748.6 L1040.3,747.7 L1041.7,746.6 L1043.0,746.3 L1044.3,747.2 L1045.6,747.4 L1046.9,746.7 L1048.3,746.6 L1049.6,747.6 L1050.9,749.4 L1052.2,750.4 L1053.5,750.9 L1054.9,750.6 L1056.2,750.3 L1057.5,751.0 L1058.8,751.5 L1060.1,752.4 L1061.5,751.6 L1062.8,749.3 L1064.1,747.7 L1065.4,747.1 L1066.7,745.2 L1068.1,742.7 L1069.4,741.0 L1070.7,741.9 L1072.0,742.7 L1073.3,742.1 L1074.7,740.5 L1076.0,739.7 L1077.3,739.7 L1078.6,739.7 L1079.9,738.6 L1081.3,738.1 L1082.6,737.8 L1083.9,737.4 L1085.2,736.6 L1086.5,736.7 L1087.9,736.4 L1089.2,736.1 L1090.5,736.4 L1091.8,735.8 L1093.1,735.2 L1094.5,736.4 L1095.8,737.1 L1097.1,737.3 L1098.4,738.3 L1099.7,738.6 L1101.1,738.5 L1102.4,737.2 L1103.7,736.9 L1105.0,738.3 L1106.3,738.9 L1107.7,738.0 L1109.0,737.1 L1110.3,735.8 L1111.6,736.5 L1112.9,738.7 L1114.3,740.5 L1115.6,740.4 L1116.9,741.3 L1118.2,742.0 L1119.5,743.9 L1120.9,744.9 L1122.2,744.5 L1123.5,745.5 L1124.8,746.9 L1126.1,746.6 L1127.5,745.8 L1128.8,745.6 L1130.1,746.3 L1131.4,748.0 L1132.7,748.8 L1134.1,749.9 L1135.4,750.2 L1136.7,749.7 L1138.0,750.1 L1139.3,751.3 L1140.7,751.7 L1142.0,751.5 L1143.3,751.4 L1144.6,752.4 L1145.9,750.9 L1147.3,749.3 L1148.6,749.6 L1149.9,750.5 L1151.2,749.5 L1152.5,745.1 L1153.9,741.7 L1155.2,740.1 L1156.5,736.7 L1157.8,734.3 L1159.1,732.3 L1160.5,731.5 L1161.8,731.4 L1163.1,730.1 L1164.4,729.1 L1165.7,729.1 L1167.1,729.5 L1168.4,728.6 L1169.7,728.3 L1171.0,728.2 L1172.3,727.8 L1173.7,727.4 L1175.0,728.4 L1176.3,728.9 L1177.6,727.7 L1178.9,726.7 L1180.3,726.8 L1181.6,727.9 L1182.9,728.3 L1184.2,728.6 L1185.5,728.6 L1186.9,728.5 L1188.2,729.8 L1189.5,730.5 L1190.8,730.8 L1192.1,731.6 L1193.5,732.3 L1194.8,732.4 L1196.1,733.6 L1197.4,735.7 L1198.7,736.5 L1200.1,737.1 L1201.4,738.2 L1202.7,739.6 L1204.0,740.4 L1205.3,741.7 L1206.7,743.3 L1208.0,744.5 L1209.3,744.9 L1210.6,743.9 L1211.9,742.6 L1213.3,741.8 L1214.6,741.5 L1215.9,741.4 L1217.2,740.7 L1218.5,740.0 L1219.9,739.9 L1221.2,739.0 L1222.5,739.0 L1223.8,740.7 L1225.1,743.8 L1226.5,746.2 L1227.8,747.9 L1229.1,748.7 L1230.4,749.8 L1231.7,751.5 L1233.1,753.2 L1234.4,754.2 L1235.7,753.3 L1237.0,752.7 L1238.3,752.4 L1239.7,751.7 L1241.0,750.9 L1242.3,751.7 L1243.6,752.2 L1244.9,752.0 L1246.3,751.3 L1247.6,750.8 L1248.9,750.6 L1250.2,751.5 L1251.5,751.5 L1252.9,752.8 L1254.2,754.6 L1255.5,756.0 L1256.8,756.4 L1258.1,755.6 L1259.5,755.1 L1260.8,755.5 L1262.1,756.2 L1263.4,756.2 L1264.7,755.7 L1266.1,755.3 L1267.4,755.2 L1268.7,755.0 L1270.0,753.9 L1271.3,754.0 L1272.7,754.5 L1274.0,753.4 L1275.3,751.6 L1276.6,750.4 L1277.9,748.9 L1279.3,748.3 L1280.6,748.4 L1281.9,747.7 L1283.2,747.0 L1284.5,748.7 L1285.9,750.2 L1287.2,750.1 L1288.5,750.6 L1289.8,750.6 L1291.1,749.5 L1292.5,748.9 L1293.8,747.8 L1295.1,746.6 L1296.4,746.8 L1297.7,746.9 L1299.1,747.2 L1300.4,747.2 L1301.7,745.7 L1303.0,744.1 L1304.3,744.0 L1305.7,744.4 L1307.0,744.3 L1308.3,743.0 L1309.6,742.4 L1310.9,742.7 L1312.3,743.9 L1313.6,743.9 L1314.9,743.2 L1316.2,742.7 L1317.5,742.8 L1318.9,743.2 L1320.2,744.0 L1321.5,745.0 L1322.8,746.4 L1324.1,746.1 L1325.5,745.0 L1326.8,745.3 L1328.1,746.3 L1329.4,746.2 L1330.7,746.0 L1332.1,746.6 L1333.4,747.9 L1334.7,747.8 L1336.0,748.5 L1337.3,750.0 L1338.7,752.4 L1340.0,753.0 L1341.3,753.3 L1342.6,754.2 L1343.9,755.6 L1345.3,756.0 L1346.6,756.5 L1347.9,757.3 L1349.2,756.7 L1350.5,757.6 L1351.7,758.5" fill="none" stroke="#0000ff" stroke-width="6" stroke-linejoin="round"/>
<path d="M165.5,947.2 C166.0,947.2 167.5,947.2 168.5,947.2 C169.5,947.1 170.5,947.1 171.5,947.0 C172.5,947.0 173.5,946.9 174.5,946.8 C175.5,946.8 176.5,946.7 177.5,946.6 C178.5,946.5 179.5,946.4 180.5,946.3 C181.5,946.1 182.5,946.0 183.5,945.8 C184.5,945.7 185.5,945.5 186.5,945.4 C187.5,945.3 188.5,945.2 189.5,945.2 C190.5,945.1 191.5,945.0 192.5,945.0 C193.5,944.9 194.5,944.9 195.5,944.8 C196.5,944.7 197.5,944.6 198.5,944.5 C199.5,944.3 200.5,944.1 201.5,943.8 C202.5,943.5 203.5,943.0 204.5,942.7 C205.5,942.3 206.5,941.9 207.5,941.6 C208.5,941.4 209.5,941.2 210.5,941.1 C211.5,941.0 212.5,940.9 213.5,940.9 C214.5,940.8 215.5,940.8 216.5,940.8 C217.5,940.7 218.5,940.7 219.5,940.6 C220.5,940.6 221.5,940.5 222.5,940.4 C223.5,940.3 224.5,940.2 225.5,940.0 C226.5,939.8 227.5,939.6 228.5,939.3 C229.5,939.1 230.5,938.8 231.5,938.5 C232.5,938.2 233.5,937.9 234.5,937.6 C235.5,937.3 236.5,936.9 237.5,936.6 C238.5,936.3 239.5,935.9 240.5,935.5 C241.5,935.2 242.5,934.9 243.5,934.7 C244.5,934.4 245.5,934.3 246.5,934.1 C247.5,934.0 248.5,933.9 249.5,933.8 C250.5,933.7 251.5,933.6 252.5,933.6 C253.5,933.5 254.5,933.5 255.5,933.5 C256.5,933.4 257.5,933.4 258.5,933.4 C259.5,933.4 260.5,933.4 261.5,933.4 C262.5,933.4 263.5,933.4 264.5,933.4 C265.5,933.4 266.5,933.5 267.5,933.5 C268.5,933.5 269.5,933.5 270.5,933.4 C271.5,933.4 272.5,933.4 273.5,933.3 C274.5,933.3 275.5,933.2 276.5,933.1 C277.5,933.0 278.5,932.9 279.5,932.8 C280.5,932.7 281.5,932.6 282.5,932.5 C283.5,932.4 284.5,932.4 285.5,932.3 C286.5,932.2 287.5,932.1 288.5,932.0 C289.5,931.9 290.5,931.8 291.5,931.6 C292.5,931.5 293.5,931.3 294.5,931.1 C295.5,930.9 296.5,930.6 297.5,930.4 C298.5,930.1 299.5,929.8 300.5,929.4 C301.5,929.1 302.5,928.8 303.5,928.5 C304.5,928.1 305.5,927.7 306.5,927.3 C307.5,926.9 308.5,926.5 309.5,926.1 C310.5,925.7 311.5,925.3 312.5,924.9 C313.5,924.6 314.5,924.3 315.5,924.1 C316.5,923.9 317.5,923.8 318.5,923.6 C319.5,923.5 320.5,923.4 321.5,923.2 C322.5,923.0 323.5,922.9 324.5,922.7 C325.5,922.4 326.5,922.1 327.5,921.7 C328.5,921.3 329.5,920.7 330.5,920.2 C331.5,919.6 332.5,919.0 333.5,918.5 C334.5,917.9 335.5,917.4 336.5,916.9 C337.5,916.5 338.5,916.1 339.5,915.7 C340.5,915.3 341.5,915.0 342.5,914.6 C343.5,914.3 344.5,913.9 345.5,913.6 C346.5,913.2 347.5,912.8 348.5,912.4 C349.5,912.0 350.5,911.5 351.5,911.1 C352.5,910.7 353.5,910.2 354.5,909.8 C355.5,909.3 356.5,908.9 357.5,908.4 C358.5,907.8 359.5,907.3 360.5,906.8 C361.5,906.2 362.5,905.6 363.5,905.0 C364.5,904.4 365.5,903.8 366.5,903.1 C367.5,902.5 368.5,901.9 369.5,901.3 C370.5,900.6 371.5,900.0 372.5,899.4 C373.5,898.8 374.5,898.2 375.5,897.5 C376.5,896.9 377.5,896.2 378.5,895.5 C379.5,894.9 380.5,894.1 381.5,893.4 C382.5,892.6 383.5,891.8 384.5,891.0 C385.5,890.2 386.5,889.4 387.5,888.5 C388.5,887.6 389.5,886.7 390.5,885.8 C391.5,884.8 392.5,883.8 393.5,882.8 C394.5,881.8 395.5,880.7 396.5,879.5 C397.5,878.4 398.5,877.1 399.5,875.9 C400.5,874.6 401.5,873.3 402.5,872.0 C403.5,870.6 404.5,869.3 405.5,868.0 C406.5,866.6 407.5,865.3 408.5,863.9 C409.5,862.6 410.5,861.2 411.5,859.8 C412.5,858.3 413.5,856.8 414.5,855.2 C415.5,853.6 416.5,852.0 417.5,850.2 C418.5,848.4 419.5,846.5 420.5,844.4 C421.5,842.4 422.5,840.2 423.5,837.8 C424.5,835.4 425.5,832.7 426.5,830.0 C427.5,827.3 428.5,824.5 429.5,821.6 C430.5,818.8 431.5,816.0 432.5,813.0 C433.5,810.0 434.5,807.0 435.5,803.8 C436.5,800.7 437.5,797.4 438.5,794.2 C439.5,790.9 440.5,787.5 441.5,784.2 C442.5,780.8 443.5,777.5 444.5,774.1 C445.5,770.8 446.5,767.5 447.5,764.1 C448.5,760.8 449.5,757.5 450.5,754.1 C451.5,750.8 452.5,747.4 453.5,744.1 C454.5,740.8 455.5,737.4 456.5,734.2 C457.5,731.0 458.5,727.8 459.5,724.9 C460.5,722.0 461.5,719.3 462.5,716.7 C463.5,714.2 464.5,711.9 465.5,709.7 C466.5,707.5 467.5,705.4 468.5,703.5 C469.5,701.7 470.5,700.0 471.5,698.5 C472.5,696.9 473.5,695.5 474.5,694.2 C475.5,692.8 476.5,691.5 477.5,690.6 C478.5,689.8 479.5,689.3 480.5,689.1 C481.5,689.0 482.5,689.3 483.5,689.7 C484.5,690.0 485.5,690.6 486.5,691.3 C487.5,692.0 488.5,692.8 489.5,693.7 C490.5,694.6 491.5,695.4 492.5,696.7 C493.5,697.9 494.5,699.3 495.5,701.3 C496.5,703.3 497.5,705.9 498.5,708.7 C499.5,711.4 500.5,714.3 501.5,717.6 C502.5,720.8 503.5,724.2 504.5,727.9 C505.5,731.6 506.5,735.7 507.5,739.8 C508.5,743.9 509.5,748.2 510.5,752.4 C511.5,756.6 512.5,760.9 513.5,764.9 C514.5,768.9 515.5,772.8 516.5,776.5 C517.5,780.3 518.5,784.0 519.5,787.7 C520.5,791.3 521.5,795.1 522.5,798.6 C523.5,802.1 524.5,805.5 525.5,808.7 C526.5,811.9 527.5,814.9 528.5,817.8 C529.5,820.7 530.5,823.4 531.5,826.0 C532.5,828.7 533.5,831.1 534.5,833.5 C535.5,835.9 536.5,838.1 537.5,840.2 C538.5,842.4 539.5,844.4 540.5,846.3 C541.5,848.2 542.5,850.1 543.5,851.8 C544.5,853.5 545.5,855.0 546.5,856.5 C547.5,858.0 548.5,859.3 549.5,860.6 C550.5,862.0 551.5,863.2 552.5,864.5 C553.5,865.7 554.5,866.9 555.5,868.2 C556.5,869.5 557.5,870.8 558.5,872.1 C559.5,873.4 560.5,874.8 561.5,876.0 C562.5,877.2 563.5,878.5 564.5,879.5 C565.5,880.5 566.5,881.4 567.5,882.2 C568.5,883.0 569.5,883.6 570.5,884.2 C571.5,884.8 572.5,885.3 573.5,885.8 C574.5,886.4 575.5,886.8 576.5,887.3 C577.5,887.7 578.5,888.2 579.5,888.6 C580.5,889.1 581.5,889.5 582.5,890.0 C583.5,890.6 584.5,891.1 585.5,891.7 C586.5,892.3 587.5,893.0 588.5,893.6 C589.5,894.3 590.5,895.0 591.5,895.5 C592.5,896.1 593.5,896.6 594.5,897.0 C595.5,897.4 596.5,897.7 597.5,898.0 C598.5,898.3 599.5,898.6 600.5,898.8 C601.5,899.0 602.5,899.1 603.5,899.1 C604.5,899.1 605.5,899.0 606.5,898.8 C607.5,898.7 608.5,898.4 609.5,898.3 C610.5,898.2 611.5,898.1 612.5,898.1 C613.5,898.2 614.5,898.5 615.5,898.8 C616.5,899.1 617.5,899.6 618.5,900.0 C619.5,900.3 620.5,900.7 621.5,901.0 C622.5,901.3 623.5,901.5 624.5,901.7 C625.5,902.0 626.5,902.1 627.5,902.3 C628.5,902.5 629.5,902.7 630.5,902.8 C631.5,903.0 632.5,903.1 633.5,903.2 C634.5,903.3 635.5,903.3 636.5,903.3 C637.5,903.3 638.5,903.3 639.5,903.2 C640.5,903.2 641.5,903.1 642.5,903.0 C643.5,902.9 644.5,902.8 645.5,902.8 C646.5,902.8 647.5,902.7 648.5,902.8 C649.5,903.0 650.5,903.2 651.5,903.5 C652.5,903.8 653.5,904.2 654.5,904.6 C655.5,904.9 656.5,905.4 657.5,905.7 C658.5,905.9 659.5,906.2 660.5,906.3 C661.5,906.4 662.5,906.3 663.5,906.2 C664.5,906.1 665.5,905.8 666.5,905.6 C667.5,905.4 668.5,905.1 669.5,905.0 C670.5,904.8 671.5,904.7 672.5,904.7 C673.5,904.7 674.5,904.7 675.5,904.8 C676.5,904.8 677.5,904.9 678.5,904.9 C679.5,905.0 680.5,905.1 681.5,905.2 C682.5,905.2 683.5,905.3 684.5,905.4 C685.5,905.4 686.5,905.6 687.5,905.5 C688.5,905.5 689.5,905.5 690.5,905.2 C691.5,904.9 692.5,904.3 693.5,903.7 C694.5,903.2 695.5,902.3 696.5,901.8 C697.5,901.2 698.5,900.7 699.5,900.4 C700.5,900.1 701.5,900.0 702.5,899.9 C703.5,899.7 704.5,899.7 705.5,899.6 C706.5,899.5 707.5,899.4 708.5,899.2 C709.5,899.0 710.5,898.8 711.5,898.5 C712.5,898.1 713.5,897.8 714.5,897.3 C715.5,896.8 716.5,896.3 717.5,895.6 C718.5,894.8 719.5,893.9 720.5,893.0 C721.5,892.1 722.5,891.2 723.5,890.1 C724.5,889.1 725.5,888.0 726.5,887.0 C727.5,885.9 728.5,884.7 729.5,883.6 C730.5,882.5 731.5,881.4 732.5,880.4 C733.5,879.4 734.5,878.4 735.5,877.4 C736.5,876.4 737.5,875.4 738.5,874.3 C739.5,873.2 740.5,872.0 741.5,870.7 C742.5,869.5 743.5,868.1 744.5,866.7 C745.5,865.3 746.5,863.9 747.5,862.3 C748.5,860.7 749.5,859.1 750.5,857.3 C751.5,855.6 752.5,853.7 753.5,851.8 C754.5,849.8 755.5,847.7 756.5,845.4 C757.5,843.2 758.5,840.7 759.5,838.2 C760.5,835.7 761.5,832.9 762.5,830.2 C763.5,827.5 764.5,824.6 765.5,821.8 C766.5,819.1 767.5,816.4 768.5,813.8 C769.5,811.3 770.5,808.8 771.5,806.4 C772.5,804.0 773.5,801.7 774.5,799.5 C775.5,797.3 776.5,795.1 777.5,793.0 C778.5,790.8 779.5,788.6 780.5,786.6 C781.5,784.5 782.5,782.5 783.5,780.6 C784.5,778.8 785.5,777.1 786.5,775.6 C787.5,774.0 788.5,772.5 789.5,771.4 C790.5,770.2 791.5,769.4 792.5,768.8 C793.5,768.1 794.5,767.7 795.5,767.3 C796.5,766.9 797.5,766.5 798.5,766.3 C799.5,766.1 800.5,765.9 801.5,766.1 C802.5,766.2 803.5,766.7 804.5,767.2 C805.5,767.8 806.5,768.6 807.5,769.4 C808.5,770.1 809.5,770.9 810.5,771.7 C811.5,772.5 812.5,773.4 813.5,774.3 C814.5,775.2 815.5,776.2 816.5,777.3 C817.5,778.4 818.5,779.5 819.5,780.8 C820.5,782.0 821.5,783.3 822.5,784.9 C823.5,786.5 824.5,788.2 825.5,790.4 C826.5,792.5 827.5,795.1 828.5,797.8 C829.5,800.5 830.5,803.4 831.5,806.5 C832.5,809.5 833.5,812.7 834.5,816.0 C835.5,819.2 836.5,822.5 837.5,825.9 C838.5,829.3 839.5,832.8 840.5,836.4 C841.5,839.9 842.5,843.6 843.5,847.1 C844.5,850.7 845.5,854.4 846.5,857.8 C847.5,861.3 848.5,864.7 849.5,868.0 C850.5,871.4 851.5,874.7 852.5,877.9 C853.5,881.0 854.5,884.2 855.5,886.9 C856.5,889.7 857.5,892.0 858.5,894.3 C859.5,896.6 860.5,898.5 861.5,900.5 C862.5,902.4 863.5,904.1 864.5,905.8 C865.5,907.4 866.5,909.0 867.5,910.5 C868.5,912.0 869.5,913.5 870.5,914.9 C871.5,916.3 872.5,917.7 873.5,918.9 C874.5,920.2 875.5,921.3 876.5,922.4 C877.5,923.4 878.5,924.4 879.5,925.4 C880.5,926.3 881.5,927.2 882.5,928.0 C883.5,928.9 884.5,929.7 885.5,930.5 C886.5,931.3 887.5,932.1 888.5,932.8 C889.5,933.6 890.5,934.3 891.5,935.0 C892.5,935.7 893.5,936.3 894.5,937.0 C895.5,937.6 896.5,938.2 897.5,938.8 C898.5,939.4 899.5,940.0 900.5,940.5 C901.5,941.1 902.5,941.6 903.5,942.1 C904.5,942.7 905.5,943.2 906.5,943.7 C907.5,944.2 908.5,944.7 909.5,945.3 C910.5,945.8 911.5,946.4 912.5,947.0 C913.5,947.6 914.5,948.3 915.5,948.9 C916.5,949.6 917.5,950.3 918.5,950.8 C919.5,951.4 920.5,951.8 921.5,952.2 C922.5,952.6 923.5,952.9 924.5,953.2 C925.5,953.6 926.5,953.8 927.5,954.1 C928.5,954.4 929.5,954.6 930.5,954.9 C931.5,955.2 932.5,955.4 933.5,955.7 C934.5,956.0 935.5,956.2 936.5,956.5 C937.5,956.9 938.5,957.2 939.5,957.5 C940.5,957.9 941.5,958.2 942.5,958.6 C943.5,958.9 944.5,959.2 945.5,959.4 C946.5,959.7 947.5,959.8 948.5,960.0 C949.5,960.1 950.5,960.1 951.5,960.1 C952.5,960.1 953.5,960.1 954.5,960.1 C955.5,960.1 956.5,960.1 957.5,960.1 C958.5,960.1 959.5,960.1 960.5,960.1 C961.5,960.1 962.5,960.1 963.5,960.1 C964.5,960.1 965.5,960.0 966.5,960.1 C967.5,960.1 968.5,960.0 969.5,960.2 C970.5,960.3 971.5,960.5 972.5,960.8 C973.5,961.2 974.5,961.6 975.5,962.1 C976.5,962.5 977.5,963.0 978.5,963.5 C979.5,963.9 980.5,964.3 981.5,964.7 C982.5,965.0 983.5,965.2 984.5,965.4 C985.5,965.6 986.5,965.7 987.5,965.8 C988.5,965.9 989.5,966.0 990.5,966.1 C991.5,966.2 992.5,966.3 993.5,966.4 C994.5,966.5 995.5,966.5 996.5,966.6 C997.5,966.7 998.5,966.8 999.5,966.9 C1000.5,966.9 1001.5,967.0 1002.5,967.1 C1003.5,967.2 1004.5,967.3 1005.5,967.4 C1006.5,967.5 1007.5,967.6 1008.5,967.8 C1009.5,967.9 1010.5,968.0 1011.5,968.1 C1012.5,968.2 1013.5,968.4 1014.5,968.5 C1015.5,968.6 1016.5,968.7 1017.5,968.9 C1018.5,969.0 1019.5,969.1 1020.5,969.2 C1021.5,969.3 1022.5,969.4 1023.5,969.5 C1024.5,969.6 1025.5,969.7 1026.5,969.8 C1027.5,969.9 1028.5,970.0 1029.5,970.1 C1030.5,970.2 1031.5,970.2 1032.5,970.3 C1033.5,970.4 1034.5,970.5 1035.5,970.6 C1036.5,970.6 1037.5,970.7 1038.5,970.8 C1039.5,970.8 1040.5,970.9 1041.5,971.0 C1042.5,971.0 1043.5,971.1 1044.5,971.2 C1045.5,971.2 1046.5,971.3 1047.5,971.3 C1048.5,971.4 1049.5,971.4 1050.5,971.5 C1051.5,971.5 1052.5,971.5 1053.5,971.6 C1054.5,971.6 1055.5,971.7 1056.5,971.7 C1057.5,971.7 1058.5,971.8 1059.5,971.8 C1060.5,971.9 1061.5,971.9 1062.5,971.9 C1063.5,972.0 1064.5,972.0 1065.5,972.0 C1066.5,972.1 1067.5,972.1 1068.5,972.1 C1069.5,972.2 1070.5,972.2 1071.5,972.2 C1072.5,972.2 1073.5,972.3 1074.5,972.3 C1075.5,972.3 1076.5,972.4 1077.5,972.4 C1078.5,972.4 1079.5,972.5 1080.5,972.5 C1081.5,972.5 1082.5,972.6 1083.5,972.6 C1084.5,972.6 1085.5,972.7 1086.5,972.7 C1087.5,972.7 1088.5,972.7 1089.5,972.8 C1090.5,972.8 1091.5,972.8 1092.5,972.8 C1093.5,972.8 1094.5,972.8 1095.5,972.8 C1096.5,972.8 1097.5,972.8 1098.5,972.8 C1099.5,972.8 1100.5,972.8 1101.5,972.8 C1102.5,972.8 1103.5,972.8 1104.5,972.8 C1105.5,972.8 1106.5,972.8 1107.5,972.8 C1108.5,972.8 1109.5,972.8 1110.5,972.8 C1111.5,972.8 1112.5,972.8 1113.5,972.8 C1114.5,972.8 1115.5,972.8 1116.5,972.8 C1117.5,972.8 1118.5,972.9 1119.5,972.8 C1120.5,972.8 1121.5,972.8 1122.5,972.7 C1123.5,972.6 1124.5,972.5 1125.5,972.3 C1126.5,972.1 1127.5,971.9 1128.5,971.7 C1129.5,971.4 1130.5,971.2 1131.5,971.0 C1132.5,970.7 1133.5,970.5 1134.5,970.3 C1135.5,970.1 1136.5,970.0 1137.5,969.9 C1138.5,969.8 1139.5,969.7 1140.5,969.7 C1141.5,969.6 1142.5,969.5 1143.5,969.5 C1144.5,969.4 1145.5,969.4 1146.5,969.3 C1147.5,969.3 1148.5,969.2 1149.5,969.2 C1150.5,969.1 1151.5,969.1 1152.5,969.1 C1153.5,969.0 1154.5,969.0 1155.5,969.0 C1156.5,969.0 1157.5,968.9 1158.5,968.9 C1159.5,968.9 1160.5,968.9 1161.5,968.9 C1162.5,968.9 1163.5,968.9 1164.5,968.9 C1165.5,968.9 1166.5,968.9 1167.5,969.0 C1168.5,969.0 1169.5,969.1 1170.5,969.1 C1171.5,969.2 1172.5,969.2 1173.5,969.3 C1174.5,969.4 1175.5,969.5 1176.5,969.5 C1177.5,969.6 1178.5,969.7 1179.5,969.8 C1180.5,969.9 1181.5,969.9 1182.5,970.0 C1183.5,970.1 1184.5,970.2 1185.5,970.3 C1186.5,970.4 1187.5,970.4 1188.5,970.5 C1189.5,970.6 1190.5,970.7 1191.5,970.8 C1192.5,970.9 1193.5,971.0 1194.5,971.2 C1195.5,971.3 1196.5,971.4 1197.5,971.5 C1198.5,971.6 1199.5,971.8 1200.5,971.9 C1201.5,972.0 1202.5,972.1 1203.5,972.2 C1204.5,972.3 1205.5,972.4 1206.5,972.5 C1207.5,972.6 1208.5,972.7 1209.5,972.7 C1210.5,972.8 1211.5,972.8 1212.5,972.9 C1213.5,972.9 1214.5,972.9 1215.5,973.0 C1216.5,973.0 1217.5,973.0 1218.5,973.0 C1219.5,973.1 1220.5,973.1 1221.5,973.1 C1222.5,973.1 1223.5,973.1 1224.5,973.2 C1225.5,973.2 1226.5,973.2 1227.5,973.2 C1228.5,973.2 1229.5,973.3 1230.5,973.3 C1231.5,973.3 1232.5,973.3 1233.5,973.4 C1234.5,973.4 1235.5,973.4 1236.5,973.5 C1237.5,973.5 1238.5,973.6 1239.5,973.6 C1240.5,973.6 1241.5,973.7 1242.5,973.8 C1243.5,973.8 1244.5,973.9 1245.5,973.9 C1246.5,974.0 1247.5,974.1 1248.5,974.1 C1249.5,974.2 1250.5,974.3 1251.5,974.3 C1252.5,974.4 1253.5,974.5 1254.5,974.5 C1255.5,974.6 1256.5,974.7 1257.5,974.8 C1258.5,974.8 1259.5,974.9 1260.5,975.0 C1261.5,975.1 1262.5,975.2 1263.5,975.3 C1264.5,975.4 1265.5,975.5 1266.5,975.7 C1267.5,975.8 1268.5,975.9 1269.5,976.1 C1270.5,976.2 1271.5,976.3 1272.5,976.5 C1273.5,976.6 1274.5,976.7 1275.5,976.8 C1276.5,976.9 1277.5,977.0 1278.5,977.1 C1279.5,977.2 1280.5,977.3 1281.5,977.3 C1282.5,977.4 1283.5,977.4 1284.5,977.4 C1285.5,977.4 1286.5,977.4 1287.5,977.4 C1288.5,977.4 1289.5,977.4 1290.5,977.4 C1291.5,977.4 1292.5,977.4 1293.5,977.4 C1294.5,977.4 1295.5,977.4 1296.5,977.4 C1297.5,977.4 1298.5,977.4 1299.5,977.4 C1300.5,977.4 1301.5,977.4 1302.5,977.4 C1303.5,977.4 1304.5,977.4 1305.5,977.4 C1306.5,977.4 1307.5,977.4 1308.5,977.4 C1309.5,977.4 1310.5,977.4 1311.5,977.4 C1312.5,977.4 1313.5,977.4 1314.5,977.4 C1315.5,977.4 1316.5,977.4 1317.5,977.3 C1318.5,977.3 1319.5,977.3 1320.5,977.2 C1321.5,977.2 1322.5,977.1 1323.5,977.1 C1324.5,977.0 1325.5,976.9 1326.5,976.9 C1327.5,976.8 1328.5,976.7 1329.5,976.6 C1330.5,976.6 1331.5,976.5 1332.5,976.4 C1333.5,976.3 1334.5,976.3 1335.5,976.2 C1336.5,976.1 1337.5,976.1 1338.5,976.0 C1339.5,976.0 1340.5,975.9 1341.5,975.9 C1342.5,975.9 1343.5,975.9 1344.5,975.9 C1345.5,975.9 1346.5,975.9 1347.5,975.9 C1348.5,975.9 1350.0,975.9 1350.5,975.9" fill="none" stroke="#000" stroke-width="6" stroke-linejoin="round"/>
<path d="M165.4,1175.7 C165.9,1175.5 167.4,1175.0 168.4,1174.6 C169.4,1174.2 170.4,1173.9 171.4,1173.5 C172.4,1173.2 173.4,1172.8 174.4,1172.5 C175.4,1172.2 176.4,1171.9 177.4,1171.6 C178.4,1171.3 179.4,1171.1 180.4,1170.8 C181.4,1170.6 182.4,1170.3 183.4,1170.1 C184.4,1169.9 185.4,1169.6 186.4,1169.4 C187.4,1169.2 188.4,1169.0 189.4,1168.8 C190.4,1168.6 191.4,1168.3 192.4,1168.1 C193.4,1167.9 194.4,1167.6 195.4,1167.4 C196.4,1167.2 197.4,1166.9 198.4,1166.7 C199.4,1166.4 200.4,1166.1 201.4,1165.9 C202.4,1165.6 203.4,1165.3 204.4,1165.0 C205.4,1164.8 206.4,1164.5 207.4,1164.2 C208.4,1163.9 209.4,1163.6 210.4,1163.3 C211.4,1163.0 212.4,1162.7 213.4,1162.4 C214.4,1162.1 215.4,1161.8 216.4,1161.5 C217.4,1161.2 218.4,1160.9 219.4,1160.6 C220.4,1160.3 221.4,1160.0 222.4,1159.6 C223.4,1159.3 224.4,1159.0 225.4,1158.6 C226.4,1158.3 227.4,1157.9 228.4,1157.5 C229.4,1157.1 230.4,1156.7 231.4,1156.2 C232.4,1155.8 233.4,1155.3 234.4,1154.8 C235.4,1154.3 236.4,1153.8 237.4,1153.3 C238.4,1152.8 239.4,1152.3 240.4,1151.8 C241.4,1151.3 242.4,1150.9 243.4,1150.5 C244.4,1150.0 245.4,1149.6 246.4,1149.3 C247.4,1148.9 248.4,1148.5 249.4,1148.2 C250.4,1147.9 251.4,1147.6 252.4,1147.3 C253.4,1147.0 254.4,1146.7 255.4,1146.4 C256.4,1146.1 257.4,1145.8 258.4,1145.6 C259.4,1145.3 260.4,1145.0 261.4,1144.8 C262.4,1144.5 263.4,1144.2 264.4,1144.0 C265.4,1143.7 266.4,1143.4 267.4,1143.2 C268.4,1142.9 269.4,1142.6 270.4,1142.4 C271.4,1142.1 272.4,1141.8 273.4,1141.6 C274.4,1141.3 275.4,1141.1 276.4,1140.8 C277.4,1140.5 278.4,1140.2 279.4,1140.0 C280.4,1139.7 281.4,1139.4 282.4,1139.1 C283.4,1138.8 284.4,1138.5 285.4,1138.1 C286.4,1137.8 287.4,1137.4 288.4,1137.1 C289.4,1136.7 290.4,1136.3 291.4,1135.9 C292.4,1135.5 293.4,1135.1 294.4,1134.7 C295.4,1134.2 296.4,1133.8 297.4,1133.3 C298.4,1132.8 299.4,1132.3 300.4,1131.8 C301.4,1131.3 302.4,1130.7 303.4,1130.1 C304.4,1129.5 305.4,1128.8 306.4,1128.2 C307.4,1127.5 308.4,1126.8 309.4,1126.1 C310.4,1125.5 311.4,1124.8 312.4,1124.1 C313.4,1123.4 314.4,1122.8 315.4,1122.1 C316.4,1121.5 317.4,1120.9 318.4,1120.3 C319.4,1119.7 320.4,1119.1 321.4,1118.5 C322.4,1117.9 323.4,1117.3 324.4,1116.7 C325.4,1116.1 326.4,1115.5 327.4,1115.0 C328.4,1114.4 329.4,1113.8 330.4,1113.2 C331.4,1112.6 332.4,1112.0 333.4,1111.4 C334.4,1110.8 335.4,1110.2 336.4,1109.6 C337.4,1109.0 338.4,1108.4 339.4,1107.8 C340.4,1107.2 341.4,1106.6 342.4,1106.0 C343.4,1105.4 344.4,1104.8 345.4,1104.2 C346.4,1103.6 347.4,1103.0 348.4,1102.4 C349.4,1101.7 350.4,1101.1 351.4,1100.5 C352.4,1099.8 353.4,1099.2 354.4,1098.5 C355.4,1097.8 356.4,1097.0 357.4,1096.2 C358.4,1095.5 359.4,1094.7 360.4,1093.8 C361.4,1093.0 362.4,1092.2 363.4,1091.3 C364.4,1090.5 365.4,1089.6 366.4,1088.8 C367.4,1087.9 368.4,1087.1 369.4,1086.3 C370.4,1085.5 371.4,1084.7 372.4,1083.8 C373.4,1083.0 374.4,1082.2 375.4,1081.4 C376.4,1080.5 377.4,1079.7 378.4,1078.8 C379.4,1077.9 380.4,1077.0 381.4,1076.1 C382.4,1075.2 383.4,1074.3 384.4,1073.3 C385.4,1072.4 386.4,1071.5 387.4,1070.5 C388.4,1069.6 389.4,1068.6 390.4,1067.7 C391.4,1066.8 392.4,1065.9 393.4,1065.0 C394.4,1064.1 395.4,1063.2 396.4,1062.4 C397.4,1061.5 398.4,1060.7 399.4,1059.9 C400.4,1059.1 401.4,1058.3 402.4,1057.4 C403.4,1056.5 404.4,1055.6 405.4,1054.5 C406.4,1053.4 407.4,1052.3 408.4,1050.9 C409.4,1049.5 410.4,1047.9 411.4,1046.0 C412.4,1044.2 413.4,1042.0 414.4,1039.8 C415.4,1037.5 416.4,1034.9 417.4,1032.4 C418.4,1029.9 419.4,1027.3 420.4,1024.8 C421.4,1022.3 422.4,1019.8 423.4,1017.4 C424.4,1014.9 425.4,1012.5 426.4,1010.1 C427.4,1007.7 428.4,1005.2 429.4,1002.7 C430.4,1000.2 431.4,997.6 432.4,995.0 C433.4,992.3 434.4,989.7 435.4,987.0 C436.4,984.4 437.4,981.7 438.4,979.1 C439.4,976.4 440.4,973.8 441.4,971.1 C442.4,968.5 443.4,965.8 444.4,963.2 C445.4,960.6 446.4,958.0 447.4,955.5 C448.4,952.9 449.4,950.4 450.4,948.0 C451.4,945.7 452.4,943.3 453.4,941.1 C454.4,938.9 455.4,936.8 456.4,934.8 C457.4,932.7 458.4,930.7 459.4,928.9 C460.4,927.1 461.4,925.3 462.4,923.7 C463.4,922.1 464.4,920.6 465.4,919.3 C466.4,918.0 467.4,916.9 468.4,916.1 C469.4,915.2 470.4,914.5 471.4,914.0 C472.4,913.5 473.4,913.3 474.4,913.1 C475.4,912.9 476.4,912.8 477.4,912.9 C478.4,912.9 479.4,913.1 480.4,913.5 C481.4,913.9 482.4,914.4 483.4,915.2 C484.4,916.0 485.4,917.0 486.4,918.3 C487.4,919.6 488.4,921.1 489.4,922.7 C490.4,924.4 491.4,926.2 492.4,928.0 C493.4,929.8 494.4,931.7 495.4,933.7 C496.4,935.6 497.4,937.6 498.4,939.7 C499.4,941.8 500.4,944.0 501.4,946.3 C502.4,948.6 503.4,951.0 504.4,953.5 C505.4,956.0 506.4,958.6 507.4,961.2 C508.4,963.9 509.4,966.6 510.4,969.2 C511.4,971.9 512.4,974.6 513.4,977.3 C514.4,979.9 515.4,982.6 516.4,985.1 C517.4,987.7 518.4,990.2 519.4,992.6 C520.4,995.1 521.4,997.4 522.4,999.7 C523.4,1002.0 524.4,1004.2 525.4,1006.4 C526.4,1008.5 527.4,1010.6 528.4,1012.7 C529.4,1014.7 530.4,1016.7 531.4,1018.7 C532.4,1020.6 533.4,1022.6 534.4,1024.4 C535.4,1026.3 536.4,1028.1 537.4,1029.9 C538.4,1031.6 539.4,1033.3 540.4,1034.9 C541.4,1036.5 542.4,1038.0 543.4,1039.4 C544.4,1040.8 545.4,1042.1 546.4,1043.4 C547.4,1044.6 548.4,1045.7 549.4,1046.9 C550.4,1048.0 551.4,1049.1 552.4,1050.2 C553.4,1051.3 554.4,1052.4 555.4,1053.5 C556.4,1054.7 557.4,1055.8 558.4,1056.9 C559.4,1058.0 560.4,1059.1 561.4,1060.3 C562.4,1061.4 563.4,1062.5 564.4,1063.6 C565.4,1064.7 566.4,1065.7 567.4,1066.8 C568.4,1067.9 569.4,1068.9 570.4,1069.9 C571.4,1070.9 572.4,1071.9 573.4,1072.8 C574.4,1073.7 575.4,1074.6 576.4,1075.4 C577.4,1076.2 578.4,1077.0 579.4,1077.7 C580.4,1078.5 581.4,1079.2 582.4,1079.9 C583.4,1080.6 584.4,1081.3 585.4,1082.0 C586.4,1082.7 587.4,1083.5 588.4,1084.2 C589.4,1085.0 590.4,1085.8 591.4,1086.6 C592.4,1087.4 593.4,1088.2 594.4,1089.0 C595.4,1089.8 596.4,1090.6 597.4,1091.3 C598.4,1091.9 599.4,1092.6 600.4,1093.2 C601.4,1093.8 602.4,1094.3 603.4,1094.8 C604.4,1095.2 605.4,1095.7 606.4,1096.1 C607.4,1096.4 608.4,1096.8 609.4,1097.1 C610.4,1097.4 611.4,1097.7 612.4,1097.9 C613.4,1098.1 614.4,1098.3 615.4,1098.5 C616.4,1098.7 617.4,1098.9 618.4,1099.0 C619.4,1099.2 620.4,1099.3 621.4,1099.4 C622.4,1099.6 623.4,1099.7 624.4,1099.8 C625.4,1099.9 626.4,1100.0 627.4,1100.0 C628.4,1100.1 629.4,1100.2 630.4,1100.3 C631.4,1100.4 632.4,1100.4 633.4,1100.5 C634.4,1100.6 635.4,1100.6 636.4,1100.7 C637.4,1100.7 638.4,1100.8 639.4,1100.8 C640.4,1100.8 641.4,1100.8 642.4,1100.8 C643.4,1100.8 644.4,1100.8 645.4,1100.8 C646.4,1100.8 647.4,1100.8 648.4,1100.8 C649.4,1100.8 650.4,1100.8 651.4,1100.7 C652.4,1100.7 653.4,1100.7 654.4,1100.6 C655.4,1100.6 656.4,1100.6 657.4,1100.5 C658.4,1100.5 659.4,1100.4 660.4,1100.4 C661.4,1100.3 662.4,1100.2 663.4,1100.1 C664.4,1100.0 665.4,1099.9 666.4,1099.7 C667.4,1099.6 668.4,1099.4 669.4,1099.2 C670.4,1098.9 671.4,1098.7 672.4,1098.4 C673.4,1098.1 674.4,1097.8 675.4,1097.5 C676.4,1097.2 677.4,1096.9 678.4,1096.5 C679.4,1096.2 680.4,1095.9 681.4,1095.6 C682.4,1095.2 683.4,1094.9 684.4,1094.5 C685.4,1094.2 686.4,1093.8 687.4,1093.4 C688.4,1093.1 689.4,1092.7 690.4,1092.3 C691.4,1091.9 692.4,1091.5 693.4,1091.1 C694.4,1090.6 695.4,1090.2 696.4,1089.8 C697.4,1089.3 698.4,1088.9 699.4,1088.4 C700.4,1087.9 701.4,1087.5 702.4,1087.0 C703.4,1086.4 704.4,1085.9 705.4,1085.4 C706.4,1084.8 707.4,1084.3 708.4,1083.7 C709.4,1083.1 710.4,1082.5 711.4,1081.9 C712.4,1081.3 713.4,1080.6 714.4,1079.9 C715.4,1079.3 716.4,1078.5 717.4,1077.8 C718.4,1077.0 719.4,1076.2 720.4,1075.3 C721.4,1074.4 722.4,1073.4 723.4,1072.3 C724.4,1071.3 725.4,1070.2 726.4,1069.1 C727.4,1068.0 728.4,1066.8 729.4,1065.7 C730.4,1064.5 731.4,1063.3 732.4,1062.2 C733.4,1061.0 734.4,1059.8 735.4,1058.5 C736.4,1057.2 737.4,1055.9 738.4,1054.3 C739.4,1052.8 740.4,1051.2 741.4,1049.3 C742.4,1047.5 743.4,1045.4 744.4,1043.2 C745.4,1041.0 746.4,1038.5 747.4,1035.9 C748.4,1033.3 749.4,1030.5 750.4,1027.7 C751.4,1024.8 752.4,1021.8 753.4,1018.7 C754.4,1015.7 755.4,1012.5 756.4,1009.3 C757.4,1006.1 758.4,1002.9 759.4,999.6 C760.4,996.4 761.4,993.1 762.4,989.9 C763.4,986.6 764.4,983.4 765.4,980.2 C766.4,977.0 767.4,973.7 768.4,970.6 C769.4,967.6 770.4,964.5 771.4,961.6 C772.4,958.7 773.4,956.0 774.4,953.4 C775.4,950.8 776.4,948.5 777.4,946.3 C778.4,944.1 779.4,942.1 780.4,940.2 C781.4,938.3 782.4,936.6 783.4,935.0 C784.4,933.5 785.4,932.0 786.4,930.7 C787.4,929.4 788.4,928.2 789.4,927.2 C790.4,926.2 791.4,925.4 792.4,924.8 C793.4,924.1 794.4,923.7 795.4,923.4 C796.4,923.1 797.4,923.0 798.4,923.1 C799.4,923.2 800.4,923.5 801.4,924.0 C802.4,924.5 803.4,925.2 804.4,926.3 C805.4,927.3 806.4,928.7 807.4,930.3 C808.4,932.0 809.4,934.0 810.4,936.3 C811.4,938.5 812.4,941.1 813.4,943.8 C814.4,946.4 815.4,949.3 816.4,952.1 C817.4,954.9 818.4,957.7 819.4,960.5 C820.4,963.4 821.4,966.2 822.4,969.1 C823.4,972.0 824.4,974.9 825.4,978.0 C826.4,981.2 827.4,984.4 828.4,988.0 C829.4,991.5 830.4,995.3 831.4,999.1 C832.4,1003.0 833.4,1007.1 834.4,1011.2 C835.4,1015.3 836.4,1019.5 837.4,1023.6 C838.4,1027.7 839.4,1031.8 840.4,1035.8 C841.4,1039.8 842.4,1043.8 843.4,1047.6 C844.4,1051.4 845.4,1055.1 846.4,1058.6 C847.4,1062.2 848.4,1065.5 849.4,1068.8 C850.4,1072.0 851.4,1075.1 852.4,1078.1 C853.4,1081.1 854.4,1083.9 855.4,1086.8 C856.4,1089.7 857.4,1092.5 858.4,1095.3 C859.4,1098.1 860.4,1100.9 861.4,1103.7 C862.4,1106.5 863.4,1109.4 864.4,1112.1 C865.4,1114.9 866.4,1117.6 867.4,1120.2 C868.4,1122.7 869.4,1125.2 870.4,1127.5 C871.4,1129.8 872.4,1132.0 873.4,1134.0 C874.4,1136.0 875.4,1137.8 876.4,1139.6 C877.4,1141.3 878.4,1142.9 879.4,1144.5 C880.4,1146.0 881.4,1147.5 882.4,1148.9 C883.4,1150.3 884.4,1151.6 885.4,1153.0 C886.4,1154.3 887.4,1155.6 888.4,1156.9 C889.4,1158.2 890.4,1159.6 891.4,1160.9 C892.4,1162.2 893.4,1163.5 894.4,1164.8 C895.4,1166.1 896.4,1167.4 897.4,1168.7 C898.4,1169.9 899.4,1171.1 900.4,1172.3 C901.4,1173.4 902.4,1174.5 903.4,1175.6 C904.4,1176.6 905.4,1177.6 906.4,1178.5 C907.4,1179.5 908.4,1180.4 909.4,1181.2 C910.4,1182.1 911.4,1182.9 912.4,1183.7 C913.4,1184.5 914.4,1185.3 915.4,1186.0 C916.4,1186.7 917.4,1187.5 918.4,1188.2 C919.4,1188.9 920.4,1189.5 921.4,1190.2 C922.4,1190.9 923.4,1191.5 924.4,1192.2 C925.4,1192.8 926.4,1193.4 927.4,1194.0 C928.4,1194.6 929.4,1195.2 930.4,1195.7 C931.4,1196.2 932.4,1196.7 933.4,1197.1 C934.4,1197.6 935.4,1198.0 936.4,1198.4 C937.4,1198.7 938.4,1199.1 939.4,1199.4 C940.4,1199.7 941.4,1200.0 942.4,1200.2 C943.4,1200.5 944.4,1200.8 945.4,1201.0 C946.4,1201.3 947.4,1201.5 948.4,1201.7 C949.4,1202.0 950.4,1202.2 951.4,1202.5 C952.4,1202.7 953.4,1202.9 954.4,1203.2 C955.4,1203.4 956.4,1203.7 957.4,1203.9 C958.4,1204.1 959.4,1204.4 960.4,1204.6 C961.4,1204.8 962.4,1205.1 963.4,1205.3 C964.4,1205.5 965.4,1205.7 966.4,1205.9 C967.4,1206.2 968.4,1206.4 969.4,1206.6 C970.4,1206.8 971.4,1206.9 972.4,1207.1 C973.4,1207.3 974.4,1207.5 975.4,1207.7 C976.4,1207.8 977.4,1208.0 978.4,1208.2 C979.4,1208.3 980.4,1208.5 981.4,1208.7 C982.4,1208.8 983.4,1209.0 984.4,1209.1 C985.4,1209.3 986.4,1209.4 987.4,1209.5 C988.4,1209.7 989.4,1209.8 990.4,1209.9 C991.4,1210.1 992.4,1210.2 993.4,1210.3 C994.4,1210.4 995.4,1210.6 996.4,1210.7 C997.4,1210.8 998.4,1210.9 999.4,1211.1 C1000.4,1211.2 1001.4,1211.4 1002.4,1211.5 C1003.4,1211.7 1004.4,1211.8 1005.4,1212.0 C1006.4,1212.1 1007.4,1212.3 1008.4,1212.5 C1009.4,1212.6 1010.4,1212.8 1011.4,1213.0 C1012.4,1213.2 1013.4,1213.3 1014.4,1213.5 C1015.4,1213.7 1016.4,1213.9 1017.4,1214.1 C1018.4,1214.2 1019.4,1214.4 1020.4,1214.6 C1021.4,1214.8 1022.4,1215.0 1023.4,1215.2 C1024.4,1215.3 1025.4,1215.5 1026.4,1215.7 C1027.4,1215.9 1028.4,1216.0 1029.4,1216.2 C1030.4,1216.3 1031.4,1216.5 1032.4,1216.6 C1033.4,1216.7 1034.4,1216.8 1035.4,1216.9 C1036.4,1217.0 1037.4,1217.0 1038.4,1217.1 C1039.4,1217.2 1040.4,1217.2 1041.4,1217.2 C1042.4,1217.3 1043.4,1217.3 1044.4,1217.3 C1045.4,1217.4 1046.4,1217.4 1047.4,1217.4 C1048.4,1217.5 1049.4,1217.5 1050.4,1217.5 C1051.4,1217.6 1052.4,1217.6 1053.4,1217.6 C1054.4,1217.7 1055.4,1217.7 1056.4,1217.7 C1057.4,1217.8 1058.4,1217.8 1059.4,1217.8 C1060.4,1217.9 1061.4,1217.9 1062.4,1218.0 C1063.4,1218.0 1064.4,1218.0 1065.4,1218.1 C1066.4,1218.1 1067.4,1218.1 1068.4,1218.1 C1069.4,1218.2 1070.4,1218.2 1071.4,1218.2 C1072.4,1218.2 1073.4,1218.2 1074.4,1218.3 C1075.4,1218.3 1076.4,1218.3 1077.4,1218.3 C1078.4,1218.3 1079.4,1218.3 1080.4,1218.3 C1081.4,1218.3 1082.4,1218.3 1083.4,1218.3 C1084.4,1218.3 1085.4,1218.3 1086.4,1218.3 C1087.4,1218.3 1088.4,1218.3 1089.4,1218.3 C1090.4,1218.3 1091.4,1218.3 1092.4,1218.3 C1093.4,1218.3 1094.4,1218.3 1095.4,1218.3 C1096.4,1218.3 1097.4,1218.3 1098.4,1218.3 C1099.4,1218.3 1100.4,1218.3 1101.4,1218.3 C1102.4,1218.3 1103.4,1218.3 1104.4,1218.3 C1105.4,1218.4 1106.4,1218.4 1107.4,1218.4 C1108.4,1218.5 1109.4,1218.5 1110.4,1218.5 C1111.4,1218.6 1112.4,1218.7 1113.4,1218.7 C1114.4,1218.8 1115.4,1218.8 1116.4,1218.9 C1117.4,1219.0 1118.4,1219.0 1119.4,1219.1 C1120.4,1219.2 1121.4,1219.2 1122.4,1219.3 C1123.4,1219.3 1124.4,1219.4 1125.4,1219.4 C1126.4,1219.5 1127.4,1219.5 1128.4,1219.6 C1129.4,1219.6 1130.4,1219.7 1131.4,1219.7 C1132.4,1219.7 1133.4,1219.8 1134.4,1219.8 C1135.4,1219.8 1136.4,1219.9 1137.4,1219.9 C1138.4,1219.9 1139.4,1220.0 1140.4,1220.0 C1141.4,1220.0 1142.4,1220.1 1143.4,1220.1 C1144.4,1220.2 1145.4,1220.2 1146.4,1220.2 C1147.4,1220.3 1148.4,1220.3 1149.4,1220.4 C1150.4,1220.4 1151.4,1220.5 1152.4,1220.5 C1153.4,1220.6 1154.4,1220.6 1155.4,1220.7 C1156.4,1220.7 1157.4,1220.8 1158.4,1220.8 C1159.4,1220.9 1160.4,1221.0 1161.4,1221.0 C1162.4,1221.1 1163.4,1221.2 1164.4,1221.2 C1165.4,1221.3 1166.4,1221.4 1167.4,1221.4 C1168.4,1221.5 1169.4,1221.6 1170.4,1221.6 C1171.4,1221.7 1172.4,1221.8 1173.4,1221.8 C1174.4,1221.9 1175.4,1222.0 1176.4,1222.0 C1177.4,1222.1 1178.4,1222.2 1179.4,1222.3 C1180.4,1222.3 1181.4,1222.4 1182.4,1222.5 C1183.4,1222.6 1184.4,1222.7 1185.4,1222.7 C1186.4,1222.8 1187.4,1222.9 1188.4,1223.0 C1189.4,1223.1 1190.4,1223.1 1191.4,1223.2 C1192.4,1223.2 1193.4,1223.3 1194.4,1223.3 C1195.4,1223.4 1196.4,1223.4 1197.4,1223.4 C1198.4,1223.4 1199.4,1223.4 1200.4,1223.4 C1201.4,1223.4 1202.4,1223.4 1203.4,1223.4 C1204.4,1223.3 1205.4,1223.3 1206.4,1223.2 C1207.4,1223.2 1208.4,1223.2 1209.4,1223.1 C1210.4,1223.0 1211.4,1223.0 1212.4,1222.9 C1213.4,1222.9 1214.4,1222.8 1215.4,1222.8 C1216.4,1222.7 1217.4,1222.7 1218.4,1222.6 C1219.4,1222.6 1220.4,1222.6 1221.4,1222.6 C1222.4,1222.6 1223.4,1222.6 1224.4,1222.6 C1225.4,1222.6 1226.4,1222.7 1227.4,1222.8 C1228.4,1222.9 1229.4,1223.0 1230.4,1223.1 C1231.4,1223.2 1232.4,1223.4 1233.4,1223.5 C1234.4,1223.7 1235.4,1223.8 1236.4,1224.0 C1237.4,1224.2 1238.4,1224.4 1239.4,1224.5 C1240.4,1224.7 1241.4,1224.8 1242.4,1225.0 C1243.4,1225.1 1244.4,1225.2 1245.4,1225.3 C1246.4,1225.4 1247.4,1225.5 1248.4,1225.6 C1249.4,1225.7 1250.4,1225.7 1251.4,1225.8 C1252.4,1225.9 1253.4,1225.9 1254.4,1226.0 C1255.4,1226.0 1256.4,1226.1 1257.4,1226.1 C1258.4,1226.1 1259.4,1226.2 1260.4,1226.2 C1261.4,1226.3 1262.4,1226.3 1263.4,1226.3 C1264.4,1226.4 1265.4,1226.4 1266.4,1226.4 C1267.4,1226.4 1268.4,1226.5 1269.4,1226.5 C1270.4,1226.5 1271.4,1226.5 1272.4,1226.5 C1273.4,1226.5 1274.4,1226.4 1275.4,1226.4 C1276.4,1226.4 1277.4,1226.4 1278.4,1226.3 C1279.4,1226.3 1280.4,1226.2 1281.4,1226.2 C1282.4,1226.1 1283.4,1226.0 1284.4,1226.0 C1285.4,1225.9 1286.4,1225.8 1287.4,1225.7 C1288.4,1225.7 1289.4,1225.6 1290.4,1225.5 C1291.4,1225.4 1292.4,1225.3 1293.4,1225.2 C1294.4,1225.1 1295.4,1225.0 1296.4,1224.9 C1297.4,1224.8 1298.4,1224.7 1299.4,1224.6 C1300.4,1224.5 1301.4,1224.3 1302.4,1224.2 C1303.4,1224.1 1304.4,1223.9 1305.4,1223.8 C1306.4,1223.6 1307.4,1223.5 1308.4,1223.3 C1309.4,1223.2 1310.4,1223.0 1311.4,1222.9 C1312.4,1222.8 1313.4,1222.7 1314.4,1222.6 C1315.4,1222.4 1316.4,1222.3 1317.4,1222.3 C1318.4,1222.2 1319.4,1222.1 1320.4,1222.0 C1321.4,1221.9 1322.4,1221.8 1323.4,1221.7 C1324.4,1221.7 1325.4,1221.6 1326.4,1221.5 C1327.4,1221.5 1328.4,1221.4 1329.4,1221.4 C1330.4,1221.4 1331.4,1221.3 1332.4,1221.3 C1333.4,1221.3 1334.4,1221.3 1335.4,1221.3 C1336.4,1221.3 1337.4,1221.3 1338.4,1221.4 C1339.4,1221.4 1340.4,1221.4 1341.4,1221.4 C1342.4,1221.5 1343.4,1221.5 1344.4,1221.5 C1345.4,1221.6 1346.4,1221.6 1347.4,1221.7 C1348.4,1221.8 1349.9,1221.9 1350.4,1221.9" fill="none" stroke="#ff0000" stroke-width="6" stroke-linejoin="round"/>
<defs><filter id="alias" x="0" y="0" width="1450" height="1555" filterUnits="userSpaceOnUse" color-interpolation-filters="sRGB"><feComponentTransfer><feFuncA type="discrete" tableValues="0 1"/></feComponentTransfer></filter></defs>
<g filter="url(#alias)">
<text id="leg136" x="340" y="136" font-size="73">1Glycerol:2MeOH:7H<tspan font-size="48" dy="20">2</tspan><tspan dy="-20">O</tspan></text>
<text id="leg232" x="340" y="232" font-size="73">2Glycerol:0MeOH:8H<tspan font-size="48" dy="20">2</tspan><tspan dy="-20">O</tspan></text>
<text id="leg328" x="340" y="328" font-size="73">2Glycerol:1MeOH:7H<tspan font-size="48" dy="20">2</tspan><tspan dy="-20">O</tspan></text>
<text id="dband" x="382" y="496" font-size="72">D band</text>
<text id="gband" x="706" y="520" font-size="72">G band</text>
<text id="r0" x="1014.6" y="700" font-size="66.6">I<tspan dy="18">G</tspan><tspan dy="-18">/I</tspan><tspan dy="18">D</tspan><tspan dy="-18">=0.53</tspan></text>
<text id="r1" x="1018" y="927.6" font-size="66.6">I<tspan dy="18">G</tspan><tspan dy="-18">/I</tspan><tspan dy="18">D</tspan><tspan dy="-18">=0.64</tspan></text>
<text id="r2" x="1012" y="1170" font-size="66.6">I<tspan dy="18">G</tspan><tspan dy="-18">/I</tspan><tspan dy="18">D</tspan><tspan dy="-18">=0.67</tspan></text>
<text id="t1200" x="296.8" y="1396" font-size="80.5" text-anchor="middle">1200</text>
<text id="t1400" x="560.3" y="1396" font-size="80.5" text-anchor="middle">1400</text>
<text id="t1600" x="823.9" y="1396" font-size="80.5" text-anchor="middle">1600</text>
<text id="t1800" x="1087.4" y="1396" font-size="80.5" text-anchor="middle">1800</text>
<text id="t2000" x="1350.0" y="1396" font-size="80.5" text-anchor="middle">2000</text>
<text id="xt" x="370" y="1505" font-size="97"><tspan letter-spacing="-0.18">Raman shift </tspan>(cm<tspan font-size="65.0" dy="-38">-1</tspan><tspan dy="38">)</tspan></text>
<text id="yt" transform="translate(104,984) rotate(-90)" font-size="97" letter-spacing="-0.2">Intensity (a.u.)</text>
</g>
</svg></body></html>
